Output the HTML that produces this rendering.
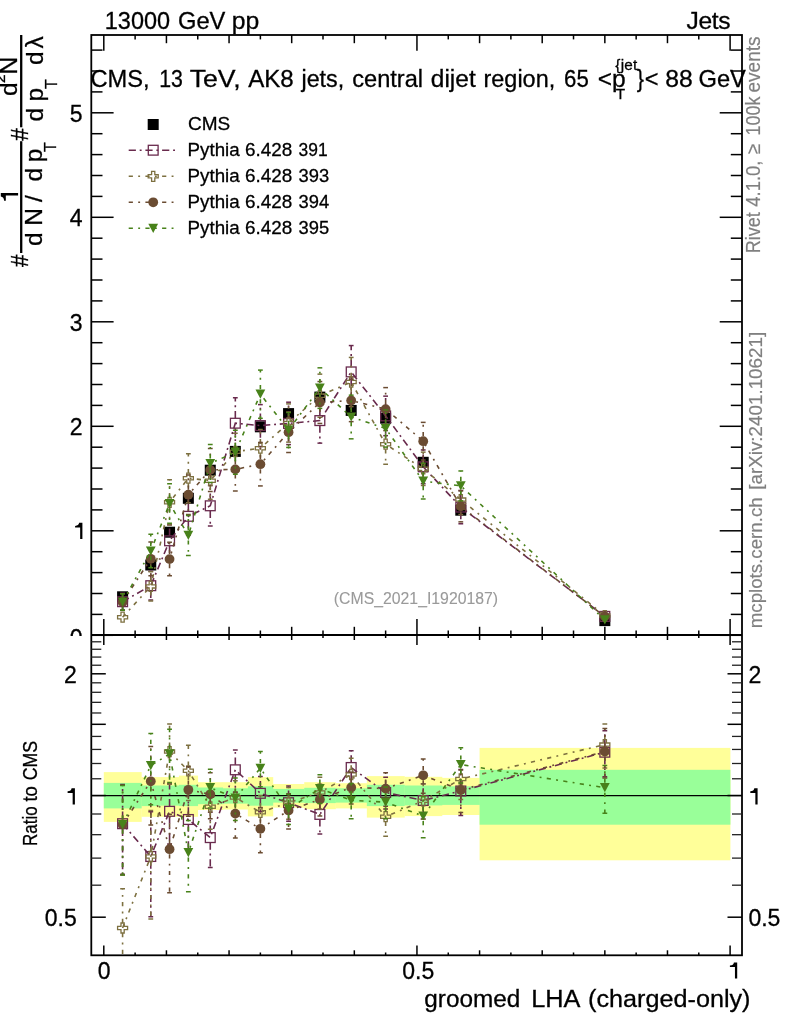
<!DOCTYPE html>
<html><head><meta charset="utf-8"><title>plot</title>
<style>html,body{margin:0;padding:0;background:#fff}svg{display:block;will-change:transform}text{font-family:"Liberation Sans",sans-serif}</style></head>
<body>
<svg width="786" height="1024" viewBox="0 0 786 1024" font-family="Liberation Sans, sans-serif">
<rect width="786" height="1024" fill="#fff"/>
<rect x="103.80" y="772.10" width="37.88" height="49.80" fill="#ffff99"/>
<rect x="141.38" y="777.10" width="19.09" height="39.70" fill="#ffff99"/>
<rect x="160.17" y="777.10" width="19.09" height="39.70" fill="#ffff99"/>
<rect x="178.96" y="775.60" width="19.09" height="41.20" fill="#ffff99"/>
<rect x="197.75" y="782.20" width="25.35" height="27.80" fill="#ffff99"/>
<rect x="222.80" y="782.20" width="25.35" height="27.30" fill="#ffff99"/>
<rect x="247.85" y="777.10" width="25.35" height="39.30" fill="#ffff99"/>
<rect x="272.90" y="784.00" width="31.61" height="23.70" fill="#ffff99"/>
<rect x="304.22" y="782.20" width="31.61" height="27.00" fill="#ffff99"/>
<rect x="335.53" y="783.20" width="31.61" height="25.20" fill="#ffff99"/>
<rect x="366.85" y="776.10" width="37.88" height="41.50" fill="#ffff99"/>
<rect x="404.42" y="776.80" width="37.88" height="39.30" fill="#ffff99"/>
<rect x="442.00" y="777.90" width="37.88" height="37.10" fill="#ffff99"/>
<rect x="479.58" y="747.90" width="250.82" height="112.40" fill="#ffff99"/>
<rect x="103.80" y="782.90" width="37.88" height="25.50" fill="#99ff99"/>
<rect x="141.38" y="785.50" width="19.09" height="20.60" fill="#99ff99"/>
<rect x="160.17" y="785.50" width="19.09" height="20.10" fill="#99ff99"/>
<rect x="178.96" y="784.80" width="19.09" height="21.30" fill="#99ff99"/>
<rect x="197.75" y="787.50" width="25.35" height="16.70" fill="#99ff99"/>
<rect x="222.80" y="788.30" width="25.35" height="15.30" fill="#99ff99"/>
<rect x="247.85" y="786.30" width="25.35" height="19.40" fill="#99ff99"/>
<rect x="272.90" y="788.90" width="31.61" height="13.70" fill="#99ff99"/>
<rect x="304.22" y="787.80" width="31.61" height="15.30" fill="#99ff99"/>
<rect x="335.53" y="788.30" width="31.61" height="14.30" fill="#99ff99"/>
<rect x="366.85" y="784.80" width="37.88" height="21.30" fill="#99ff99"/>
<rect x="404.42" y="785.50" width="37.88" height="19.90" fill="#99ff99"/>
<rect x="442.00" y="786.30" width="37.88" height="18.60" fill="#99ff99"/>
<rect x="479.58" y="769.80" width="250.82" height="54.90" fill="#99ff99"/>
<defs><clipPath id="cm"><rect x="91.3" y="35.0" width="650.7" height="600.0"/></clipPath><clipPath id="cr"><rect x="91.3" y="635.0" width="650.7" height="320.29999999999995"/></clipPath></defs>
<g clip-path="url(#cm)">
<rect x="117.09" y="591.30" width="11" height="11" fill="#000"/>
<rect x="145.27" y="559.50" width="11" height="11" fill="#000"/>
<rect x="164.06" y="526.70" width="11" height="11" fill="#000"/>
<rect x="182.85" y="492.80" width="11" height="11" fill="#000"/>
<rect x="204.77" y="464.70" width="11" height="11" fill="#000"/>
<rect x="229.82" y="445.90" width="11" height="11" fill="#000"/>
<rect x="254.88" y="421.30" width="11" height="11" fill="#000"/>
<rect x="283.06" y="408.10" width="11" height="11" fill="#000"/>
<rect x="314.37" y="391.60" width="11" height="11" fill="#000"/>
<rect x="345.69" y="404.90" width="11" height="11" fill="#000"/>
<rect x="380.13" y="412.70" width="11" height="11" fill="#000"/>
<rect x="417.71" y="456.80" width="11" height="11" fill="#000"/>
<rect x="455.29" y="504.70" width="11" height="11" fill="#000"/>
<rect x="599.34" y="615.10" width="11" height="11" fill="#000"/>
<polyline points="122.59,601.70 150.77,585.70 169.56,540.80 188.35,516.30 210.27,505.80 235.32,423.20 260.38,425.60 288.56,423.40 319.87,420.60 351.19,371.90 385.63,415.90 423.21,466.80 460.79,507.10 604.84,616.40" fill="none" stroke="#692a4d" stroke-width="1.6" stroke-dasharray="7.2 3.8 1.9 3.8"/>
<line x1="122.59" y1="596.70" x2="122.59" y2="593.30" stroke="#692a4d" stroke-width="1.6" stroke-dasharray="7.2 3.8 1.9 3.8"/>
<line x1="122.59" y1="606.70" x2="122.59" y2="610.10" stroke="#692a4d" stroke-width="1.6" stroke-dasharray="7.2 3.8 1.9 3.8"/>
<line x1="120.19" y1="593.30" x2="124.99" y2="593.30" stroke="#692a4d" stroke-width="1.5" />
<line x1="120.19" y1="610.10" x2="124.99" y2="610.10" stroke="#692a4d" stroke-width="1.5" />
<line x1="150.77" y1="580.70" x2="150.77" y2="571.32" stroke="#692a4d" stroke-width="1.6" stroke-dasharray="7.2 3.8 1.9 3.8"/>
<line x1="150.77" y1="590.70" x2="150.77" y2="600.08" stroke="#692a4d" stroke-width="1.6" stroke-dasharray="7.2 3.8 1.9 3.8"/>
<line x1="148.37" y1="571.32" x2="153.17" y2="571.32" stroke="#692a4d" stroke-width="1.5" />
<line x1="148.37" y1="600.08" x2="153.17" y2="600.08" stroke="#692a4d" stroke-width="1.5" />
<line x1="169.56" y1="535.80" x2="169.56" y2="524.73" stroke="#692a4d" stroke-width="1.6" stroke-dasharray="7.2 3.8 1.9 3.8"/>
<line x1="169.56" y1="545.80" x2="169.56" y2="556.87" stroke="#692a4d" stroke-width="1.6" stroke-dasharray="7.2 3.8 1.9 3.8"/>
<line x1="167.16" y1="524.73" x2="171.96" y2="524.73" stroke="#692a4d" stroke-width="1.5" />
<line x1="167.16" y1="556.87" x2="171.96" y2="556.87" stroke="#692a4d" stroke-width="1.5" />
<line x1="188.35" y1="511.30" x2="188.35" y2="497.26" stroke="#692a4d" stroke-width="1.6" stroke-dasharray="7.2 3.8 1.9 3.8"/>
<line x1="188.35" y1="521.30" x2="188.35" y2="535.34" stroke="#692a4d" stroke-width="1.6" stroke-dasharray="7.2 3.8 1.9 3.8"/>
<line x1="185.95" y1="497.26" x2="190.75" y2="497.26" stroke="#692a4d" stroke-width="1.5" />
<line x1="185.95" y1="535.34" x2="190.75" y2="535.34" stroke="#692a4d" stroke-width="1.5" />
<line x1="210.27" y1="500.80" x2="210.27" y2="485.60" stroke="#692a4d" stroke-width="1.6" stroke-dasharray="7.2 3.8 1.9 3.8"/>
<line x1="210.27" y1="510.80" x2="210.27" y2="526.00" stroke="#692a4d" stroke-width="1.6" stroke-dasharray="7.2 3.8 1.9 3.8"/>
<line x1="207.87" y1="485.60" x2="212.67" y2="485.60" stroke="#692a4d" stroke-width="1.5" />
<line x1="207.87" y1="526.00" x2="212.67" y2="526.00" stroke="#692a4d" stroke-width="1.5" />
<line x1="235.32" y1="418.20" x2="235.32" y2="397.75" stroke="#692a4d" stroke-width="1.6" stroke-dasharray="7.2 3.8 1.9 3.8"/>
<line x1="235.32" y1="428.20" x2="235.32" y2="448.65" stroke="#692a4d" stroke-width="1.6" stroke-dasharray="7.2 3.8 1.9 3.8"/>
<line x1="232.92" y1="397.75" x2="237.72" y2="397.75" stroke="#692a4d" stroke-width="1.5" />
<line x1="232.92" y1="448.65" x2="237.72" y2="448.65" stroke="#692a4d" stroke-width="1.5" />
<line x1="260.38" y1="420.60" x2="260.38" y2="404.63" stroke="#692a4d" stroke-width="1.6" stroke-dasharray="7.2 3.8 1.9 3.8"/>
<line x1="260.38" y1="430.60" x2="260.38" y2="446.57" stroke="#692a4d" stroke-width="1.6" stroke-dasharray="7.2 3.8 1.9 3.8"/>
<line x1="257.98" y1="404.63" x2="262.77" y2="404.63" stroke="#692a4d" stroke-width="1.5" />
<line x1="257.98" y1="446.57" x2="262.77" y2="446.57" stroke="#692a4d" stroke-width="1.5" />
<line x1="288.56" y1="418.40" x2="288.56" y2="402.21" stroke="#692a4d" stroke-width="1.6" stroke-dasharray="7.2 3.8 1.9 3.8"/>
<line x1="288.56" y1="428.40" x2="288.56" y2="444.59" stroke="#692a4d" stroke-width="1.6" stroke-dasharray="7.2 3.8 1.9 3.8"/>
<line x1="286.16" y1="402.21" x2="290.96" y2="402.21" stroke="#692a4d" stroke-width="1.5" />
<line x1="286.16" y1="444.59" x2="290.96" y2="444.59" stroke="#692a4d" stroke-width="1.5" />
<line x1="319.87" y1="415.60" x2="319.87" y2="398.06" stroke="#692a4d" stroke-width="1.6" stroke-dasharray="7.2 3.8 1.9 3.8"/>
<line x1="319.87" y1="425.60" x2="319.87" y2="443.14" stroke="#692a4d" stroke-width="1.6" stroke-dasharray="7.2 3.8 1.9 3.8"/>
<line x1="317.47" y1="398.06" x2="322.27" y2="398.06" stroke="#692a4d" stroke-width="1.5" />
<line x1="317.47" y1="443.14" x2="322.27" y2="443.14" stroke="#692a4d" stroke-width="1.5" />
<line x1="351.19" y1="366.90" x2="351.19" y2="345.56" stroke="#692a4d" stroke-width="1.6" stroke-dasharray="7.2 3.8 1.9 3.8"/>
<line x1="351.19" y1="376.90" x2="351.19" y2="398.24" stroke="#692a4d" stroke-width="1.6" stroke-dasharray="7.2 3.8 1.9 3.8"/>
<line x1="348.79" y1="345.56" x2="353.59" y2="345.56" stroke="#692a4d" stroke-width="1.5" />
<line x1="348.79" y1="398.24" x2="353.59" y2="398.24" stroke="#692a4d" stroke-width="1.5" />
<line x1="385.63" y1="410.90" x2="385.63" y2="396.15" stroke="#692a4d" stroke-width="1.6" stroke-dasharray="7.2 3.8 1.9 3.8"/>
<line x1="385.63" y1="420.90" x2="385.63" y2="435.65" stroke="#692a4d" stroke-width="1.6" stroke-dasharray="7.2 3.8 1.9 3.8"/>
<line x1="383.24" y1="396.15" x2="388.03" y2="396.15" stroke="#692a4d" stroke-width="1.5" />
<line x1="383.24" y1="435.65" x2="388.03" y2="435.65" stroke="#692a4d" stroke-width="1.5" />
<line x1="423.21" y1="461.80" x2="423.21" y2="449.95" stroke="#692a4d" stroke-width="1.6" stroke-dasharray="7.2 3.8 1.9 3.8"/>
<line x1="423.21" y1="471.80" x2="423.21" y2="483.65" stroke="#692a4d" stroke-width="1.6" stroke-dasharray="7.2 3.8 1.9 3.8"/>
<line x1="420.81" y1="449.95" x2="425.61" y2="449.95" stroke="#692a4d" stroke-width="1.5" />
<line x1="420.81" y1="483.65" x2="425.61" y2="483.65" stroke="#692a4d" stroke-width="1.5" />
<line x1="460.79" y1="502.10" x2="460.79" y2="490.43" stroke="#692a4d" stroke-width="1.6" stroke-dasharray="7.2 3.8 1.9 3.8"/>
<line x1="460.79" y1="512.10" x2="460.79" y2="523.77" stroke="#692a4d" stroke-width="1.6" stroke-dasharray="7.2 3.8 1.9 3.8"/>
<line x1="458.39" y1="490.43" x2="463.19" y2="490.43" stroke="#692a4d" stroke-width="1.5" />
<line x1="458.39" y1="523.77" x2="463.19" y2="523.77" stroke="#692a4d" stroke-width="1.5" />
<rect x="117.69" y="596.80" width="9.8" height="9.8" fill="none" stroke="#692a4d" stroke-width="1.3"/>
<rect x="145.87" y="580.80" width="9.8" height="9.8" fill="none" stroke="#692a4d" stroke-width="1.3"/>
<rect x="164.66" y="535.90" width="9.8" height="9.8" fill="none" stroke="#692a4d" stroke-width="1.3"/>
<rect x="183.45" y="511.40" width="9.8" height="9.8" fill="none" stroke="#692a4d" stroke-width="1.3"/>
<rect x="205.37" y="500.90" width="9.8" height="9.8" fill="none" stroke="#692a4d" stroke-width="1.3"/>
<rect x="230.42" y="418.30" width="9.8" height="9.8" fill="none" stroke="#692a4d" stroke-width="1.3"/>
<rect x="255.47" y="420.70" width="9.8" height="9.8" fill="none" stroke="#692a4d" stroke-width="1.3"/>
<rect x="283.66" y="418.50" width="9.8" height="9.8" fill="none" stroke="#692a4d" stroke-width="1.3"/>
<rect x="314.97" y="415.70" width="9.8" height="9.8" fill="none" stroke="#692a4d" stroke-width="1.3"/>
<rect x="346.29" y="367.00" width="9.8" height="9.8" fill="none" stroke="#692a4d" stroke-width="1.3"/>
<rect x="380.74" y="411.00" width="9.8" height="9.8" fill="none" stroke="#692a4d" stroke-width="1.3"/>
<rect x="418.31" y="461.90" width="9.8" height="9.8" fill="none" stroke="#692a4d" stroke-width="1.3"/>
<rect x="455.89" y="502.20" width="9.8" height="9.8" fill="none" stroke="#692a4d" stroke-width="1.3"/>
<rect x="599.94" y="611.50" width="9.8" height="9.8" fill="none" stroke="#692a4d" stroke-width="1.3"/>
<polyline points="122.59,617.20 150.77,586.40 169.56,502.30 188.35,478.20 210.27,480.70 235.32,451.70 260.38,448.20 288.56,423.00 319.87,395.70 351.19,382.00 385.63,444.20 423.21,468.80 460.79,499.60 604.84,615.60" fill="none" stroke="#7d7040" stroke-width="1.6" stroke-dasharray="4.2 5.3 1.9 5.3"/>
<line x1="150.77" y1="581.40" x2="150.77" y2="571.73" stroke="#7d7040" stroke-width="1.6" stroke-dasharray="4.2 5.3 1.9 5.3"/>
<line x1="150.77" y1="591.40" x2="150.77" y2="601.07" stroke="#7d7040" stroke-width="1.6" stroke-dasharray="4.2 5.3 1.9 5.3"/>
<line x1="148.37" y1="571.73" x2="153.17" y2="571.73" stroke="#7d7040" stroke-width="1.5" />
<line x1="148.37" y1="601.07" x2="153.17" y2="601.07" stroke="#7d7040" stroke-width="1.5" />
<line x1="169.56" y1="497.30" x2="169.56" y2="479.69" stroke="#7d7040" stroke-width="1.6" stroke-dasharray="4.2 5.3 1.9 5.3"/>
<line x1="169.56" y1="507.30" x2="169.56" y2="524.91" stroke="#7d7040" stroke-width="1.6" stroke-dasharray="4.2 5.3 1.9 5.3"/>
<line x1="167.16" y1="479.69" x2="171.96" y2="479.69" stroke="#7d7040" stroke-width="1.5" />
<line x1="167.16" y1="524.91" x2="171.96" y2="524.91" stroke="#7d7040" stroke-width="1.5" />
<line x1="188.35" y1="473.20" x2="188.35" y2="453.69" stroke="#7d7040" stroke-width="1.6" stroke-dasharray="4.2 5.3 1.9 5.3"/>
<line x1="188.35" y1="483.20" x2="188.35" y2="502.71" stroke="#7d7040" stroke-width="1.6" stroke-dasharray="4.2 5.3 1.9 5.3"/>
<line x1="185.95" y1="453.69" x2="190.75" y2="453.69" stroke="#7d7040" stroke-width="1.5" />
<line x1="185.95" y1="502.71" x2="190.75" y2="502.71" stroke="#7d7040" stroke-width="1.5" />
<line x1="210.27" y1="475.70" x2="210.27" y2="462.15" stroke="#7d7040" stroke-width="1.6" stroke-dasharray="4.2 5.3 1.9 5.3"/>
<line x1="210.27" y1="485.70" x2="210.27" y2="499.25" stroke="#7d7040" stroke-width="1.6" stroke-dasharray="4.2 5.3 1.9 5.3"/>
<line x1="207.87" y1="462.15" x2="212.67" y2="462.15" stroke="#7d7040" stroke-width="1.5" />
<line x1="207.87" y1="499.25" x2="212.67" y2="499.25" stroke="#7d7040" stroke-width="1.5" />
<line x1="235.32" y1="446.70" x2="235.32" y2="433.34" stroke="#7d7040" stroke-width="1.6" stroke-dasharray="4.2 5.3 1.9 5.3"/>
<line x1="235.32" y1="456.70" x2="235.32" y2="470.06" stroke="#7d7040" stroke-width="1.6" stroke-dasharray="4.2 5.3 1.9 5.3"/>
<line x1="232.92" y1="433.34" x2="237.72" y2="433.34" stroke="#7d7040" stroke-width="1.5" />
<line x1="232.92" y1="470.06" x2="237.72" y2="470.06" stroke="#7d7040" stroke-width="1.5" />
<line x1="260.38" y1="443.20" x2="260.38" y2="429.49" stroke="#7d7040" stroke-width="1.6" stroke-dasharray="4.2 5.3 1.9 5.3"/>
<line x1="260.38" y1="453.20" x2="260.38" y2="466.91" stroke="#7d7040" stroke-width="1.6" stroke-dasharray="4.2 5.3 1.9 5.3"/>
<line x1="257.98" y1="429.49" x2="262.77" y2="429.49" stroke="#7d7040" stroke-width="1.5" />
<line x1="257.98" y1="466.91" x2="262.77" y2="466.91" stroke="#7d7040" stroke-width="1.5" />
<line x1="288.56" y1="418.00" x2="288.56" y2="403.89" stroke="#7d7040" stroke-width="1.6" stroke-dasharray="4.2 5.3 1.9 5.3"/>
<line x1="288.56" y1="428.00" x2="288.56" y2="442.11" stroke="#7d7040" stroke-width="1.6" stroke-dasharray="4.2 5.3 1.9 5.3"/>
<line x1="286.16" y1="403.89" x2="290.96" y2="403.89" stroke="#7d7040" stroke-width="1.5" />
<line x1="286.16" y1="442.11" x2="290.96" y2="442.11" stroke="#7d7040" stroke-width="1.5" />
<line x1="319.87" y1="390.70" x2="319.87" y2="374.14" stroke="#7d7040" stroke-width="1.6" stroke-dasharray="4.2 5.3 1.9 5.3"/>
<line x1="319.87" y1="400.70" x2="319.87" y2="417.26" stroke="#7d7040" stroke-width="1.6" stroke-dasharray="4.2 5.3 1.9 5.3"/>
<line x1="317.47" y1="374.14" x2="322.27" y2="374.14" stroke="#7d7040" stroke-width="1.5" />
<line x1="317.47" y1="417.26" x2="322.27" y2="417.26" stroke="#7d7040" stroke-width="1.5" />
<line x1="351.19" y1="377.00" x2="351.19" y2="357.43" stroke="#7d7040" stroke-width="1.6" stroke-dasharray="4.2 5.3 1.9 5.3"/>
<line x1="351.19" y1="387.00" x2="351.19" y2="406.57" stroke="#7d7040" stroke-width="1.6" stroke-dasharray="4.2 5.3 1.9 5.3"/>
<line x1="348.79" y1="357.43" x2="353.59" y2="357.43" stroke="#7d7040" stroke-width="1.5" />
<line x1="348.79" y1="406.57" x2="353.59" y2="406.57" stroke="#7d7040" stroke-width="1.5" />
<line x1="385.63" y1="439.20" x2="385.63" y2="424.13" stroke="#7d7040" stroke-width="1.6" stroke-dasharray="4.2 5.3 1.9 5.3"/>
<line x1="385.63" y1="449.20" x2="385.63" y2="464.27" stroke="#7d7040" stroke-width="1.6" stroke-dasharray="4.2 5.3 1.9 5.3"/>
<line x1="383.24" y1="424.13" x2="388.03" y2="424.13" stroke="#7d7040" stroke-width="1.5" />
<line x1="383.24" y1="464.27" x2="388.03" y2="464.27" stroke="#7d7040" stroke-width="1.5" />
<line x1="423.21" y1="463.80" x2="423.21" y2="452.15" stroke="#7d7040" stroke-width="1.6" stroke-dasharray="4.2 5.3 1.9 5.3"/>
<line x1="423.21" y1="473.80" x2="423.21" y2="485.45" stroke="#7d7040" stroke-width="1.6" stroke-dasharray="4.2 5.3 1.9 5.3"/>
<line x1="420.81" y1="452.15" x2="425.61" y2="452.15" stroke="#7d7040" stroke-width="1.5" />
<line x1="420.81" y1="485.45" x2="425.61" y2="485.45" stroke="#7d7040" stroke-width="1.5" />
<line x1="460.79" y1="494.60" x2="460.79" y2="484.67" stroke="#7d7040" stroke-width="1.6" stroke-dasharray="4.2 5.3 1.9 5.3"/>
<line x1="460.79" y1="504.60" x2="460.79" y2="514.53" stroke="#7d7040" stroke-width="1.6" stroke-dasharray="4.2 5.3 1.9 5.3"/>
<line x1="458.39" y1="484.67" x2="463.19" y2="484.67" stroke="#7d7040" stroke-width="1.5" />
<line x1="458.39" y1="514.53" x2="463.19" y2="514.53" stroke="#7d7040" stroke-width="1.5" />
<polygon points="120.99,612.20 124.19,612.20 124.19,615.60 127.59,615.60 127.59,618.80 124.19,618.80 124.19,622.20 120.99,622.20 120.99,618.80 117.59,618.80 117.59,615.60 120.99,615.60" fill="none" stroke="#7d7040" stroke-width="1.3"/>
<polygon points="149.17,581.40 152.37,581.40 152.37,584.80 155.77,584.80 155.77,588.00 152.37,588.00 152.37,591.40 149.17,591.40 149.17,588.00 145.77,588.00 145.77,584.80 149.17,584.80" fill="none" stroke="#7d7040" stroke-width="1.3"/>
<polygon points="167.96,497.30 171.16,497.30 171.16,500.70 174.56,500.70 174.56,503.90 171.16,503.90 171.16,507.30 167.96,507.30 167.96,503.90 164.56,503.90 164.56,500.70 167.96,500.70" fill="none" stroke="#7d7040" stroke-width="1.3"/>
<polygon points="186.75,473.20 189.95,473.20 189.95,476.60 193.35,476.60 193.35,479.80 189.95,479.80 189.95,483.20 186.75,483.20 186.75,479.80 183.35,479.80 183.35,476.60 186.75,476.60" fill="none" stroke="#7d7040" stroke-width="1.3"/>
<polygon points="208.67,475.70 211.87,475.70 211.87,479.10 215.27,479.10 215.27,482.30 211.87,482.30 211.87,485.70 208.67,485.70 208.67,482.30 205.27,482.30 205.27,479.10 208.67,479.10" fill="none" stroke="#7d7040" stroke-width="1.3"/>
<polygon points="233.72,446.70 236.92,446.70 236.92,450.10 240.32,450.10 240.32,453.30 236.92,453.30 236.92,456.70 233.72,456.70 233.72,453.30 230.32,453.30 230.32,450.10 233.72,450.10" fill="none" stroke="#7d7040" stroke-width="1.3"/>
<polygon points="258.77,443.20 261.98,443.20 261.98,446.60 265.38,446.60 265.38,449.80 261.98,449.80 261.98,453.20 258.77,453.20 258.77,449.80 255.38,449.80 255.38,446.60 258.77,446.60" fill="none" stroke="#7d7040" stroke-width="1.3"/>
<polygon points="286.96,418.00 290.16,418.00 290.16,421.40 293.56,421.40 293.56,424.60 290.16,424.60 290.16,428.00 286.96,428.00 286.96,424.60 283.56,424.60 283.56,421.40 286.96,421.40" fill="none" stroke="#7d7040" stroke-width="1.3"/>
<polygon points="318.27,390.70 321.47,390.70 321.47,394.10 324.87,394.10 324.87,397.30 321.47,397.30 321.47,400.70 318.27,400.70 318.27,397.30 314.87,397.30 314.87,394.10 318.27,394.10" fill="none" stroke="#7d7040" stroke-width="1.3"/>
<polygon points="349.59,377.00 352.79,377.00 352.79,380.40 356.19,380.40 356.19,383.60 352.79,383.60 352.79,387.00 349.59,387.00 349.59,383.60 346.19,383.60 346.19,380.40 349.59,380.40" fill="none" stroke="#7d7040" stroke-width="1.3"/>
<polygon points="384.03,439.20 387.24,439.20 387.24,442.60 390.63,442.60 390.63,445.80 387.24,445.80 387.24,449.20 384.03,449.20 384.03,445.80 380.63,445.80 380.63,442.60 384.03,442.60" fill="none" stroke="#7d7040" stroke-width="1.3"/>
<polygon points="421.61,463.80 424.81,463.80 424.81,467.20 428.21,467.20 428.21,470.40 424.81,470.40 424.81,473.80 421.61,473.80 421.61,470.40 418.21,470.40 418.21,467.20 421.61,467.20" fill="none" stroke="#7d7040" stroke-width="1.3"/>
<polygon points="459.19,494.60 462.39,494.60 462.39,498.00 465.79,498.00 465.79,501.20 462.39,501.20 462.39,504.60 459.19,504.60 459.19,501.20 455.79,501.20 455.79,498.00 459.19,498.00" fill="none" stroke="#7d7040" stroke-width="1.3"/>
<polygon points="603.24,610.60 606.44,610.60 606.44,614.00 609.84,614.00 609.84,617.20 606.44,617.20 606.44,620.60 603.24,620.60 603.24,617.20 599.84,617.20 599.84,614.00 603.24,614.00" fill="none" stroke="#7d7040" stroke-width="1.3"/>
<polyline points="122.59,602.00 150.77,558.80 169.56,559.10 188.35,494.70 210.27,469.90 235.32,469.40 260.38,464.20 288.56,432.20 319.87,402.50 351.19,400.50 385.63,409.10 423.21,441.20 460.79,506.40 604.84,616.50" fill="none" stroke="#6b4c32" stroke-width="1.6" stroke-dasharray="4.2 5.3 1.9 5.3"/>
<line x1="122.59" y1="597.00" x2="122.59" y2="593.67" stroke="#6b4c32" stroke-width="1.6" stroke-dasharray="4.2 5.3 1.9 5.3"/>
<line x1="122.59" y1="607.00" x2="122.59" y2="610.33" stroke="#6b4c32" stroke-width="1.6" stroke-dasharray="4.2 5.3 1.9 5.3"/>
<line x1="120.19" y1="593.67" x2="124.99" y2="593.67" stroke="#6b4c32" stroke-width="1.5" />
<line x1="120.19" y1="610.33" x2="124.99" y2="610.33" stroke="#6b4c32" stroke-width="1.5" />
<line x1="150.77" y1="553.80" x2="150.77" y2="541.97" stroke="#6b4c32" stroke-width="1.6" stroke-dasharray="4.2 5.3 1.9 5.3"/>
<line x1="150.77" y1="563.80" x2="150.77" y2="575.63" stroke="#6b4c32" stroke-width="1.6" stroke-dasharray="4.2 5.3 1.9 5.3"/>
<line x1="148.37" y1="541.97" x2="153.17" y2="541.97" stroke="#6b4c32" stroke-width="1.5" />
<line x1="148.37" y1="575.63" x2="153.17" y2="575.63" stroke="#6b4c32" stroke-width="1.5" />
<line x1="169.56" y1="554.10" x2="169.56" y2="542.34" stroke="#6b4c32" stroke-width="1.6" stroke-dasharray="4.2 5.3 1.9 5.3"/>
<line x1="169.56" y1="564.10" x2="169.56" y2="575.86" stroke="#6b4c32" stroke-width="1.6" stroke-dasharray="4.2 5.3 1.9 5.3"/>
<line x1="167.16" y1="542.34" x2="171.96" y2="542.34" stroke="#6b4c32" stroke-width="1.5" />
<line x1="167.16" y1="575.86" x2="171.96" y2="575.86" stroke="#6b4c32" stroke-width="1.5" />
<line x1="188.35" y1="489.70" x2="188.35" y2="475.02" stroke="#6b4c32" stroke-width="1.6" stroke-dasharray="4.2 5.3 1.9 5.3"/>
<line x1="188.35" y1="499.70" x2="188.35" y2="514.38" stroke="#6b4c32" stroke-width="1.6" stroke-dasharray="4.2 5.3 1.9 5.3"/>
<line x1="185.95" y1="475.02" x2="190.75" y2="475.02" stroke="#6b4c32" stroke-width="1.5" />
<line x1="185.95" y1="514.38" x2="190.75" y2="514.38" stroke="#6b4c32" stroke-width="1.5" />
<line x1="210.27" y1="464.90" x2="210.27" y2="448.40" stroke="#6b4c32" stroke-width="1.6" stroke-dasharray="4.2 5.3 1.9 5.3"/>
<line x1="210.27" y1="474.90" x2="210.27" y2="491.40" stroke="#6b4c32" stroke-width="1.6" stroke-dasharray="4.2 5.3 1.9 5.3"/>
<line x1="207.87" y1="448.40" x2="212.67" y2="448.40" stroke="#6b4c32" stroke-width="1.5" />
<line x1="207.87" y1="491.40" x2="212.67" y2="491.40" stroke="#6b4c32" stroke-width="1.5" />
<line x1="235.32" y1="464.40" x2="235.32" y2="447.83" stroke="#6b4c32" stroke-width="1.6" stroke-dasharray="4.2 5.3 1.9 5.3"/>
<line x1="235.32" y1="474.40" x2="235.32" y2="490.97" stroke="#6b4c32" stroke-width="1.6" stroke-dasharray="4.2 5.3 1.9 5.3"/>
<line x1="232.92" y1="447.83" x2="237.72" y2="447.83" stroke="#6b4c32" stroke-width="1.5" />
<line x1="232.92" y1="490.97" x2="237.72" y2="490.97" stroke="#6b4c32" stroke-width="1.5" />
<line x1="260.38" y1="459.20" x2="260.38" y2="442.47" stroke="#6b4c32" stroke-width="1.6" stroke-dasharray="4.2 5.3 1.9 5.3"/>
<line x1="260.38" y1="469.20" x2="260.38" y2="485.93" stroke="#6b4c32" stroke-width="1.6" stroke-dasharray="4.2 5.3 1.9 5.3"/>
<line x1="257.98" y1="442.47" x2="262.77" y2="442.47" stroke="#6b4c32" stroke-width="1.5" />
<line x1="257.98" y1="485.93" x2="262.77" y2="485.93" stroke="#6b4c32" stroke-width="1.5" />
<line x1="288.56" y1="427.20" x2="288.56" y2="411.89" stroke="#6b4c32" stroke-width="1.6" stroke-dasharray="4.2 5.3 1.9 5.3"/>
<line x1="288.56" y1="437.20" x2="288.56" y2="452.51" stroke="#6b4c32" stroke-width="1.6" stroke-dasharray="4.2 5.3 1.9 5.3"/>
<line x1="286.16" y1="411.89" x2="290.96" y2="411.89" stroke="#6b4c32" stroke-width="1.5" />
<line x1="286.16" y1="452.51" x2="290.96" y2="452.51" stroke="#6b4c32" stroke-width="1.5" />
<line x1="319.87" y1="397.50" x2="319.87" y2="381.55" stroke="#6b4c32" stroke-width="1.6" stroke-dasharray="4.2 5.3 1.9 5.3"/>
<line x1="319.87" y1="407.50" x2="319.87" y2="423.45" stroke="#6b4c32" stroke-width="1.6" stroke-dasharray="4.2 5.3 1.9 5.3"/>
<line x1="317.47" y1="381.55" x2="322.27" y2="381.55" stroke="#6b4c32" stroke-width="1.5" />
<line x1="317.47" y1="423.45" x2="322.27" y2="423.45" stroke="#6b4c32" stroke-width="1.5" />
<line x1="351.19" y1="395.50" x2="351.19" y2="379.37" stroke="#6b4c32" stroke-width="1.6" stroke-dasharray="4.2 5.3 1.9 5.3"/>
<line x1="351.19" y1="405.50" x2="351.19" y2="421.63" stroke="#6b4c32" stroke-width="1.6" stroke-dasharray="4.2 5.3 1.9 5.3"/>
<line x1="348.79" y1="379.37" x2="353.59" y2="379.37" stroke="#6b4c32" stroke-width="1.5" />
<line x1="348.79" y1="421.63" x2="353.59" y2="421.63" stroke="#6b4c32" stroke-width="1.5" />
<line x1="385.63" y1="404.10" x2="385.63" y2="387.61" stroke="#6b4c32" stroke-width="1.6" stroke-dasharray="4.2 5.3 1.9 5.3"/>
<line x1="385.63" y1="414.10" x2="385.63" y2="430.59" stroke="#6b4c32" stroke-width="1.6" stroke-dasharray="4.2 5.3 1.9 5.3"/>
<line x1="383.24" y1="387.61" x2="388.03" y2="387.61" stroke="#6b4c32" stroke-width="1.5" />
<line x1="383.24" y1="430.59" x2="388.03" y2="430.59" stroke="#6b4c32" stroke-width="1.5" />
<line x1="423.21" y1="436.20" x2="423.21" y2="422.37" stroke="#6b4c32" stroke-width="1.6" stroke-dasharray="4.2 5.3 1.9 5.3"/>
<line x1="423.21" y1="446.20" x2="423.21" y2="460.03" stroke="#6b4c32" stroke-width="1.6" stroke-dasharray="4.2 5.3 1.9 5.3"/>
<line x1="420.81" y1="422.37" x2="425.61" y2="422.37" stroke="#6b4c32" stroke-width="1.5" />
<line x1="420.81" y1="460.03" x2="425.61" y2="460.03" stroke="#6b4c32" stroke-width="1.5" />
<line x1="460.79" y1="501.40" x2="460.79" y2="490.93" stroke="#6b4c32" stroke-width="1.6" stroke-dasharray="4.2 5.3 1.9 5.3"/>
<line x1="460.79" y1="511.40" x2="460.79" y2="521.87" stroke="#6b4c32" stroke-width="1.6" stroke-dasharray="4.2 5.3 1.9 5.3"/>
<line x1="458.39" y1="490.93" x2="463.19" y2="490.93" stroke="#6b4c32" stroke-width="1.5" />
<line x1="458.39" y1="521.87" x2="463.19" y2="521.87" stroke="#6b4c32" stroke-width="1.5" />
<circle cx="122.59" cy="602.00" r="4.9" fill="#6b4c32"/>
<circle cx="150.77" cy="558.80" r="4.9" fill="#6b4c32"/>
<circle cx="169.56" cy="559.10" r="4.9" fill="#6b4c32"/>
<circle cx="188.35" cy="494.70" r="4.9" fill="#6b4c32"/>
<circle cx="210.27" cy="469.90" r="4.9" fill="#6b4c32"/>
<circle cx="235.32" cy="469.40" r="4.9" fill="#6b4c32"/>
<circle cx="260.38" cy="464.20" r="4.9" fill="#6b4c32"/>
<circle cx="288.56" cy="432.20" r="4.9" fill="#6b4c32"/>
<circle cx="319.87" cy="402.50" r="4.9" fill="#6b4c32"/>
<circle cx="351.19" cy="400.50" r="4.9" fill="#6b4c32"/>
<circle cx="385.63" cy="409.10" r="4.9" fill="#6b4c32"/>
<circle cx="423.21" cy="441.20" r="4.9" fill="#6b4c32"/>
<circle cx="460.79" cy="506.40" r="4.9" fill="#6b4c32"/>
<circle cx="604.84" cy="616.50" r="4.9" fill="#6b4c32"/>
<polyline points="122.59,602.00 150.77,551.00 169.56,503.60 188.35,535.40 210.27,463.50 235.32,452.20 260.38,394.20 288.56,430.00 319.87,388.10 351.19,417.00 385.63,428.50 423.21,481.10 460.79,485.90 604.84,619.90" fill="none" stroke="#48821a" stroke-width="1.6" stroke-dasharray="4.2 5.3 1.9 5.3"/>
<line x1="122.59" y1="597.00" x2="122.59" y2="593.67" stroke="#48821a" stroke-width="1.6" stroke-dasharray="4.2 5.3 1.9 5.3"/>
<line x1="122.59" y1="607.00" x2="122.59" y2="610.33" stroke="#48821a" stroke-width="1.6" stroke-dasharray="4.2 5.3 1.9 5.3"/>
<line x1="120.19" y1="593.67" x2="124.99" y2="593.67" stroke="#48821a" stroke-width="1.5" />
<line x1="120.19" y1="610.33" x2="124.99" y2="610.33" stroke="#48821a" stroke-width="1.5" />
<line x1="150.77" y1="546.00" x2="150.77" y2="534.14" stroke="#48821a" stroke-width="1.6" stroke-dasharray="4.2 5.3 1.9 5.3"/>
<line x1="150.77" y1="556.00" x2="150.77" y2="567.86" stroke="#48821a" stroke-width="1.6" stroke-dasharray="4.2 5.3 1.9 5.3"/>
<line x1="148.37" y1="534.14" x2="153.17" y2="534.14" stroke="#48821a" stroke-width="1.5" />
<line x1="148.37" y1="567.86" x2="153.17" y2="567.86" stroke="#48821a" stroke-width="1.5" />
<line x1="169.56" y1="498.60" x2="169.56" y2="483.85" stroke="#48821a" stroke-width="1.6" stroke-dasharray="4.2 5.3 1.9 5.3"/>
<line x1="169.56" y1="508.60" x2="169.56" y2="523.36" stroke="#48821a" stroke-width="1.6" stroke-dasharray="4.2 5.3 1.9 5.3"/>
<line x1="167.16" y1="483.85" x2="171.96" y2="483.85" stroke="#48821a" stroke-width="1.5" />
<line x1="167.16" y1="523.36" x2="171.96" y2="523.36" stroke="#48821a" stroke-width="1.5" />
<line x1="188.35" y1="530.40" x2="188.35" y2="515.42" stroke="#48821a" stroke-width="1.6" stroke-dasharray="4.2 5.3 1.9 5.3"/>
<line x1="188.35" y1="540.40" x2="188.35" y2="555.38" stroke="#48821a" stroke-width="1.6" stroke-dasharray="4.2 5.3 1.9 5.3"/>
<line x1="185.95" y1="515.42" x2="190.75" y2="515.42" stroke="#48821a" stroke-width="1.5" />
<line x1="185.95" y1="555.38" x2="190.75" y2="555.38" stroke="#48821a" stroke-width="1.5" />
<line x1="210.27" y1="458.50" x2="210.27" y2="444.60" stroke="#48821a" stroke-width="1.6" stroke-dasharray="4.2 5.3 1.9 5.3"/>
<line x1="210.27" y1="468.50" x2="210.27" y2="482.40" stroke="#48821a" stroke-width="1.6" stroke-dasharray="4.2 5.3 1.9 5.3"/>
<line x1="207.87" y1="444.60" x2="212.67" y2="444.60" stroke="#48821a" stroke-width="1.5" />
<line x1="207.87" y1="482.40" x2="212.67" y2="482.40" stroke="#48821a" stroke-width="1.5" />
<line x1="235.32" y1="447.20" x2="235.32" y2="430.23" stroke="#48821a" stroke-width="1.6" stroke-dasharray="4.2 5.3 1.9 5.3"/>
<line x1="235.32" y1="457.20" x2="235.32" y2="474.17" stroke="#48821a" stroke-width="1.6" stroke-dasharray="4.2 5.3 1.9 5.3"/>
<line x1="232.92" y1="430.23" x2="237.72" y2="430.23" stroke="#48821a" stroke-width="1.5" />
<line x1="232.92" y1="474.17" x2="237.72" y2="474.17" stroke="#48821a" stroke-width="1.5" />
<line x1="260.38" y1="389.20" x2="260.38" y2="370.09" stroke="#48821a" stroke-width="1.6" stroke-dasharray="4.2 5.3 1.9 5.3"/>
<line x1="260.38" y1="399.20" x2="260.38" y2="418.31" stroke="#48821a" stroke-width="1.6" stroke-dasharray="4.2 5.3 1.9 5.3"/>
<line x1="257.98" y1="370.09" x2="262.77" y2="370.09" stroke="#48821a" stroke-width="1.5" />
<line x1="257.98" y1="418.31" x2="262.77" y2="418.31" stroke="#48821a" stroke-width="1.5" />
<line x1="288.56" y1="425.00" x2="288.56" y2="412.55" stroke="#48821a" stroke-width="1.6" stroke-dasharray="4.2 5.3 1.9 5.3"/>
<line x1="288.56" y1="435.00" x2="288.56" y2="447.45" stroke="#48821a" stroke-width="1.6" stroke-dasharray="4.2 5.3 1.9 5.3"/>
<line x1="286.16" y1="412.55" x2="290.96" y2="412.55" stroke="#48821a" stroke-width="1.5" />
<line x1="286.16" y1="447.45" x2="290.96" y2="447.45" stroke="#48821a" stroke-width="1.5" />
<line x1="319.87" y1="383.10" x2="319.87" y2="367.83" stroke="#48821a" stroke-width="1.6" stroke-dasharray="4.2 5.3 1.9 5.3"/>
<line x1="319.87" y1="393.10" x2="319.87" y2="408.37" stroke="#48821a" stroke-width="1.6" stroke-dasharray="4.2 5.3 1.9 5.3"/>
<line x1="317.47" y1="367.83" x2="322.27" y2="367.83" stroke="#48821a" stroke-width="1.5" />
<line x1="317.47" y1="408.37" x2="322.27" y2="408.37" stroke="#48821a" stroke-width="1.5" />
<line x1="351.19" y1="412.00" x2="351.19" y2="395.17" stroke="#48821a" stroke-width="1.6" stroke-dasharray="4.2 5.3 1.9 5.3"/>
<line x1="351.19" y1="422.00" x2="351.19" y2="438.83" stroke="#48821a" stroke-width="1.6" stroke-dasharray="4.2 5.3 1.9 5.3"/>
<line x1="348.79" y1="395.17" x2="353.59" y2="395.17" stroke="#48821a" stroke-width="1.5" />
<line x1="348.79" y1="438.83" x2="353.59" y2="438.83" stroke="#48821a" stroke-width="1.5" />
<line x1="385.63" y1="423.50" x2="385.63" y2="409.89" stroke="#48821a" stroke-width="1.6" stroke-dasharray="4.2 5.3 1.9 5.3"/>
<line x1="385.63" y1="433.50" x2="385.63" y2="447.11" stroke="#48821a" stroke-width="1.6" stroke-dasharray="4.2 5.3 1.9 5.3"/>
<line x1="383.24" y1="409.89" x2="388.03" y2="409.89" stroke="#48821a" stroke-width="1.5" />
<line x1="383.24" y1="447.11" x2="388.03" y2="447.11" stroke="#48821a" stroke-width="1.5" />
<line x1="423.21" y1="476.10" x2="423.21" y2="463.21" stroke="#48821a" stroke-width="1.6" stroke-dasharray="4.2 5.3 1.9 5.3"/>
<line x1="423.21" y1="486.10" x2="423.21" y2="498.99" stroke="#48821a" stroke-width="1.6" stroke-dasharray="4.2 5.3 1.9 5.3"/>
<line x1="420.81" y1="463.21" x2="425.61" y2="463.21" stroke="#48821a" stroke-width="1.5" />
<line x1="420.81" y1="498.99" x2="425.61" y2="498.99" stroke="#48821a" stroke-width="1.5" />
<line x1="460.79" y1="480.90" x2="460.79" y2="470.96" stroke="#48821a" stroke-width="1.6" stroke-dasharray="4.2 5.3 1.9 5.3"/>
<line x1="460.79" y1="490.90" x2="460.79" y2="500.84" stroke="#48821a" stroke-width="1.6" stroke-dasharray="4.2 5.3 1.9 5.3"/>
<line x1="458.39" y1="470.96" x2="463.19" y2="470.96" stroke="#48821a" stroke-width="1.5" />
<line x1="458.39" y1="500.84" x2="463.19" y2="500.84" stroke="#48821a" stroke-width="1.5" />
<polygon points="117.69,597.40 127.49,597.40 122.59,606.60" fill="#48821a"/>
<polygon points="145.87,546.40 155.67,546.40 150.77,555.60" fill="#48821a"/>
<polygon points="164.66,499.00 174.46,499.00 169.56,508.20" fill="#48821a"/>
<polygon points="183.45,530.80 193.25,530.80 188.35,540.00" fill="#48821a"/>
<polygon points="205.37,458.90 215.17,458.90 210.27,468.10" fill="#48821a"/>
<polygon points="230.42,447.60 240.22,447.60 235.32,456.80" fill="#48821a"/>
<polygon points="255.47,389.60 265.27,389.60 260.38,398.80" fill="#48821a"/>
<polygon points="283.66,425.40 293.46,425.40 288.56,434.60" fill="#48821a"/>
<polygon points="314.97,383.50 324.77,383.50 319.87,392.70" fill="#48821a"/>
<polygon points="346.29,412.40 356.09,412.40 351.19,421.60" fill="#48821a"/>
<polygon points="380.74,423.90 390.53,423.90 385.63,433.10" fill="#48821a"/>
<polygon points="418.31,476.50 428.11,476.50 423.21,485.70" fill="#48821a"/>
<polygon points="455.89,481.30 465.69,481.30 460.79,490.50" fill="#48821a"/>
<polygon points="599.94,615.30 609.74,615.30 604.84,624.50" fill="#48821a"/>
</g>
<g clip-path="url(#cr)">
<line x1="91.30" y1="795.50" x2="742.00" y2="795.50" stroke="#000" stroke-width="1.25" />
<polyline points="122.59,823.70 150.77,856.50 169.56,811.30 188.35,819.50 210.27,837.60 235.32,769.80 260.38,793.30 288.56,802.70 319.87,814.40 351.19,767.50 385.63,792.50 423.21,800.50 460.79,791.00 604.84,752.20" fill="none" stroke="#692a4d" stroke-width="1.6" stroke-dasharray="7.2 3.8 1.9 3.8"/>
<line x1="122.59" y1="818.70" x2="122.59" y2="784.52" stroke="#692a4d" stroke-width="1.6" stroke-dasharray="7.2 3.8 1.9 3.8"/>
<line x1="120.19" y1="784.52" x2="124.99" y2="784.52" stroke="#692a4d" stroke-width="1.5" />
<line x1="122.59" y1="828.70" x2="122.59" y2="874.21" stroke="#692a4d" stroke-width="1.6" stroke-dasharray="7.2 3.8 1.9 3.8"/>
<line x1="120.19" y1="874.21" x2="124.99" y2="874.21" stroke="#692a4d" stroke-width="1.5" />
<line x1="150.77" y1="851.50" x2="150.77" y2="811.79" stroke="#692a4d" stroke-width="1.6" stroke-dasharray="7.2 3.8 1.9 3.8"/>
<line x1="148.37" y1="811.79" x2="153.17" y2="811.79" stroke="#692a4d" stroke-width="1.5" />
<line x1="150.77" y1="861.50" x2="150.77" y2="916.63" stroke="#692a4d" stroke-width="1.6" stroke-dasharray="7.2 3.8 1.9 3.8"/>
<line x1="148.37" y1="916.63" x2="153.17" y2="916.63" stroke="#692a4d" stroke-width="1.5" />
<line x1="169.56" y1="806.30" x2="169.56" y2="783.73" stroke="#692a4d" stroke-width="1.6" stroke-dasharray="7.2 3.8 1.9 3.8"/>
<line x1="167.16" y1="783.73" x2="171.96" y2="783.73" stroke="#692a4d" stroke-width="1.5" />
<line x1="169.56" y1="816.30" x2="169.56" y2="844.01" stroke="#692a4d" stroke-width="1.6" stroke-dasharray="7.2 3.8 1.9 3.8"/>
<line x1="167.16" y1="844.01" x2="171.96" y2="844.01" stroke="#692a4d" stroke-width="1.5" />
<line x1="188.35" y1="814.50" x2="188.35" y2="793.44" stroke="#692a4d" stroke-width="1.6" stroke-dasharray="7.2 3.8 1.9 3.8"/>
<line x1="185.95" y1="793.44" x2="190.75" y2="793.44" stroke="#692a4d" stroke-width="1.5" />
<line x1="188.35" y1="824.50" x2="188.35" y2="850.11" stroke="#692a4d" stroke-width="1.6" stroke-dasharray="7.2 3.8 1.9 3.8"/>
<line x1="185.95" y1="850.11" x2="190.75" y2="850.11" stroke="#692a4d" stroke-width="1.5" />
<line x1="210.27" y1="832.60" x2="210.27" y2="812.15" stroke="#692a4d" stroke-width="1.6" stroke-dasharray="7.2 3.8 1.9 3.8"/>
<line x1="207.87" y1="812.15" x2="212.67" y2="812.15" stroke="#692a4d" stroke-width="1.5" />
<line x1="210.27" y1="842.60" x2="210.27" y2="867.38" stroke="#692a4d" stroke-width="1.6" stroke-dasharray="7.2 3.8 1.9 3.8"/>
<line x1="207.87" y1="867.38" x2="212.67" y2="867.38" stroke="#692a4d" stroke-width="1.5" />
<line x1="235.32" y1="764.80" x2="235.32" y2="749.90" stroke="#692a4d" stroke-width="1.6" stroke-dasharray="7.2 3.8 1.9 3.8"/>
<line x1="232.92" y1="749.90" x2="237.72" y2="749.90" stroke="#692a4d" stroke-width="1.5" />
<line x1="235.32" y1="774.80" x2="235.32" y2="792.24" stroke="#692a4d" stroke-width="1.6" stroke-dasharray="7.2 3.8 1.9 3.8"/>
<line x1="232.92" y1="792.24" x2="237.72" y2="792.24" stroke="#692a4d" stroke-width="1.5" />
<line x1="260.38" y1="788.30" x2="260.38" y2="776.57" stroke="#692a4d" stroke-width="1.6" stroke-dasharray="7.2 3.8 1.9 3.8"/>
<line x1="257.98" y1="776.57" x2="262.77" y2="776.57" stroke="#692a4d" stroke-width="1.5" />
<line x1="260.38" y1="798.30" x2="260.38" y2="811.80" stroke="#692a4d" stroke-width="1.6" stroke-dasharray="7.2 3.8 1.9 3.8"/>
<line x1="257.98" y1="811.80" x2="262.77" y2="811.80" stroke="#692a4d" stroke-width="1.5" />
<line x1="288.56" y1="797.70" x2="288.56" y2="785.97" stroke="#692a4d" stroke-width="1.6" stroke-dasharray="7.2 3.8 1.9 3.8"/>
<line x1="286.16" y1="785.97" x2="290.96" y2="785.97" stroke="#692a4d" stroke-width="1.5" />
<line x1="288.56" y1="807.70" x2="288.56" y2="821.20" stroke="#692a4d" stroke-width="1.6" stroke-dasharray="7.2 3.8 1.9 3.8"/>
<line x1="286.16" y1="821.20" x2="290.96" y2="821.20" stroke="#692a4d" stroke-width="1.5" />
<line x1="319.87" y1="809.40" x2="319.87" y2="796.87" stroke="#692a4d" stroke-width="1.6" stroke-dasharray="7.2 3.8 1.9 3.8"/>
<line x1="317.47" y1="796.87" x2="322.27" y2="796.87" stroke="#692a4d" stroke-width="1.5" />
<line x1="319.87" y1="819.40" x2="319.87" y2="833.88" stroke="#692a4d" stroke-width="1.6" stroke-dasharray="7.2 3.8 1.9 3.8"/>
<line x1="317.47" y1="833.88" x2="322.27" y2="833.88" stroke="#692a4d" stroke-width="1.5" />
<line x1="351.19" y1="762.50" x2="351.19" y2="750.77" stroke="#692a4d" stroke-width="1.6" stroke-dasharray="7.2 3.8 1.9 3.8"/>
<line x1="348.79" y1="750.77" x2="353.59" y2="750.77" stroke="#692a4d" stroke-width="1.5" />
<line x1="351.19" y1="772.50" x2="351.19" y2="786.00" stroke="#692a4d" stroke-width="1.6" stroke-dasharray="7.2 3.8 1.9 3.8"/>
<line x1="348.79" y1="786.00" x2="353.59" y2="786.00" stroke="#692a4d" stroke-width="1.5" />
<line x1="385.63" y1="787.50" x2="385.63" y2="777.37" stroke="#692a4d" stroke-width="1.6" stroke-dasharray="7.2 3.8 1.9 3.8"/>
<line x1="383.24" y1="777.37" x2="388.03" y2="777.37" stroke="#692a4d" stroke-width="1.5" />
<line x1="385.63" y1="797.50" x2="385.63" y2="809.06" stroke="#692a4d" stroke-width="1.6" stroke-dasharray="7.2 3.8 1.9 3.8"/>
<line x1="383.24" y1="809.06" x2="388.03" y2="809.06" stroke="#692a4d" stroke-width="1.5" />
<line x1="423.21" y1="795.50" x2="423.21" y2="783.77" stroke="#692a4d" stroke-width="1.6" stroke-dasharray="7.2 3.8 1.9 3.8"/>
<line x1="420.81" y1="783.77" x2="425.61" y2="783.77" stroke="#692a4d" stroke-width="1.5" />
<line x1="423.21" y1="805.50" x2="423.21" y2="819.00" stroke="#692a4d" stroke-width="1.6" stroke-dasharray="7.2 3.8 1.9 3.8"/>
<line x1="420.81" y1="819.00" x2="425.61" y2="819.00" stroke="#692a4d" stroke-width="1.5" />
<line x1="460.79" y1="786.00" x2="460.79" y2="769.54" stroke="#692a4d" stroke-width="1.6" stroke-dasharray="7.2 3.8 1.9 3.8"/>
<line x1="458.39" y1="769.54" x2="463.19" y2="769.54" stroke="#692a4d" stroke-width="1.5" />
<line x1="460.79" y1="796.00" x2="460.79" y2="815.45" stroke="#692a4d" stroke-width="1.6" stroke-dasharray="7.2 3.8 1.9 3.8"/>
<line x1="458.39" y1="815.45" x2="463.19" y2="815.45" stroke="#692a4d" stroke-width="1.5" />
<line x1="604.84" y1="747.20" x2="604.84" y2="730.74" stroke="#692a4d" stroke-width="1.6" stroke-dasharray="7.2 3.8 1.9 3.8"/>
<line x1="602.44" y1="730.74" x2="607.24" y2="730.74" stroke="#692a4d" stroke-width="1.5" />
<line x1="604.84" y1="757.20" x2="604.84" y2="776.65" stroke="#692a4d" stroke-width="1.6" stroke-dasharray="7.2 3.8 1.9 3.8"/>
<line x1="602.44" y1="776.65" x2="607.24" y2="776.65" stroke="#692a4d" stroke-width="1.5" />
<rect x="117.69" y="818.80" width="9.8" height="9.8" fill="none" stroke="#692a4d" stroke-width="1.3"/>
<rect x="145.87" y="851.60" width="9.8" height="9.8" fill="none" stroke="#692a4d" stroke-width="1.3"/>
<rect x="164.66" y="806.40" width="9.8" height="9.8" fill="none" stroke="#692a4d" stroke-width="1.3"/>
<rect x="183.45" y="814.60" width="9.8" height="9.8" fill="none" stroke="#692a4d" stroke-width="1.3"/>
<rect x="205.37" y="832.70" width="9.8" height="9.8" fill="none" stroke="#692a4d" stroke-width="1.3"/>
<rect x="230.42" y="764.90" width="9.8" height="9.8" fill="none" stroke="#692a4d" stroke-width="1.3"/>
<rect x="255.47" y="788.40" width="9.8" height="9.8" fill="none" stroke="#692a4d" stroke-width="1.3"/>
<rect x="283.66" y="797.80" width="9.8" height="9.8" fill="none" stroke="#692a4d" stroke-width="1.3"/>
<rect x="314.97" y="809.50" width="9.8" height="9.8" fill="none" stroke="#692a4d" stroke-width="1.3"/>
<rect x="346.29" y="762.60" width="9.8" height="9.8" fill="none" stroke="#692a4d" stroke-width="1.3"/>
<rect x="380.74" y="787.60" width="9.8" height="9.8" fill="none" stroke="#692a4d" stroke-width="1.3"/>
<rect x="418.31" y="795.60" width="9.8" height="9.8" fill="none" stroke="#692a4d" stroke-width="1.3"/>
<rect x="455.89" y="786.10" width="9.8" height="9.8" fill="none" stroke="#692a4d" stroke-width="1.3"/>
<rect x="599.94" y="747.30" width="9.8" height="9.8" fill="none" stroke="#692a4d" stroke-width="1.3"/>
<polyline points="122.59,928.00 150.77,856.50 169.56,751.60 188.35,770.80 210.27,806.80 235.32,797.50 260.38,812.30 288.56,802.70 319.87,792.50 351.19,774.50 385.63,816.70 423.21,800.80 460.79,779.00 604.84,744.60" fill="none" stroke="#7d7040" stroke-width="1.6" stroke-dasharray="4.2 5.3 1.9 5.3"/>
<line x1="122.59" y1="923.00" x2="122.59" y2="888.82" stroke="#7d7040" stroke-width="1.6" stroke-dasharray="4.2 5.3 1.9 5.3"/>
<line x1="120.19" y1="888.82" x2="124.99" y2="888.82" stroke="#7d7040" stroke-width="1.5" />
<line x1="122.59" y1="933.00" x2="122.59" y2="978.51" stroke="#7d7040" stroke-width="1.6" stroke-dasharray="4.2 5.3 1.9 5.3"/>
<line x1="120.19" y1="978.51" x2="124.99" y2="978.51" stroke="#7d7040" stroke-width="1.5" />
<line x1="150.77" y1="851.50" x2="150.77" y2="810.44" stroke="#7d7040" stroke-width="1.6" stroke-dasharray="4.2 5.3 1.9 5.3"/>
<line x1="148.37" y1="810.44" x2="153.17" y2="810.44" stroke="#7d7040" stroke-width="1.5" />
<line x1="150.77" y1="861.50" x2="150.77" y2="919.12" stroke="#7d7040" stroke-width="1.6" stroke-dasharray="4.2 5.3 1.9 5.3"/>
<line x1="148.37" y1="919.12" x2="153.17" y2="919.12" stroke="#7d7040" stroke-width="1.5" />
<line x1="169.56" y1="746.60" x2="169.56" y2="724.03" stroke="#7d7040" stroke-width="1.6" stroke-dasharray="4.2 5.3 1.9 5.3"/>
<line x1="167.16" y1="724.03" x2="171.96" y2="724.03" stroke="#7d7040" stroke-width="1.5" />
<line x1="169.56" y1="756.60" x2="169.56" y2="784.31" stroke="#7d7040" stroke-width="1.6" stroke-dasharray="4.2 5.3 1.9 5.3"/>
<line x1="167.16" y1="784.31" x2="171.96" y2="784.31" stroke="#7d7040" stroke-width="1.5" />
<line x1="188.35" y1="765.80" x2="188.35" y2="745.35" stroke="#7d7040" stroke-width="1.6" stroke-dasharray="4.2 5.3 1.9 5.3"/>
<line x1="185.95" y1="745.35" x2="190.75" y2="745.35" stroke="#7d7040" stroke-width="1.5" />
<line x1="188.35" y1="775.80" x2="188.35" y2="800.58" stroke="#7d7040" stroke-width="1.6" stroke-dasharray="4.2 5.3 1.9 5.3"/>
<line x1="185.95" y1="800.58" x2="190.75" y2="800.58" stroke="#7d7040" stroke-width="1.5" />
<line x1="210.27" y1="801.80" x2="210.27" y2="786.90" stroke="#7d7040" stroke-width="1.6" stroke-dasharray="4.2 5.3 1.9 5.3"/>
<line x1="207.87" y1="786.90" x2="212.67" y2="786.90" stroke="#7d7040" stroke-width="1.5" />
<line x1="210.27" y1="811.80" x2="210.27" y2="829.24" stroke="#7d7040" stroke-width="1.6" stroke-dasharray="4.2 5.3 1.9 5.3"/>
<line x1="207.87" y1="829.24" x2="212.67" y2="829.24" stroke="#7d7040" stroke-width="1.5" />
<line x1="235.32" y1="792.50" x2="235.32" y2="780.77" stroke="#7d7040" stroke-width="1.6" stroke-dasharray="4.2 5.3 1.9 5.3"/>
<line x1="232.92" y1="780.77" x2="237.72" y2="780.77" stroke="#7d7040" stroke-width="1.5" />
<line x1="235.32" y1="802.50" x2="235.32" y2="816.00" stroke="#7d7040" stroke-width="1.6" stroke-dasharray="4.2 5.3 1.9 5.3"/>
<line x1="232.92" y1="816.00" x2="237.72" y2="816.00" stroke="#7d7040" stroke-width="1.5" />
<line x1="260.38" y1="807.30" x2="260.38" y2="795.57" stroke="#7d7040" stroke-width="1.6" stroke-dasharray="4.2 5.3 1.9 5.3"/>
<line x1="257.98" y1="795.57" x2="262.77" y2="795.57" stroke="#7d7040" stroke-width="1.5" />
<line x1="260.38" y1="817.30" x2="260.38" y2="830.80" stroke="#7d7040" stroke-width="1.6" stroke-dasharray="4.2 5.3 1.9 5.3"/>
<line x1="257.98" y1="830.80" x2="262.77" y2="830.80" stroke="#7d7040" stroke-width="1.5" />
<line x1="288.56" y1="797.70" x2="288.56" y2="787.57" stroke="#7d7040" stroke-width="1.6" stroke-dasharray="4.2 5.3 1.9 5.3"/>
<line x1="286.16" y1="787.57" x2="290.96" y2="787.57" stroke="#7d7040" stroke-width="1.5" />
<line x1="288.56" y1="807.70" x2="288.56" y2="819.26" stroke="#7d7040" stroke-width="1.6" stroke-dasharray="4.2 5.3 1.9 5.3"/>
<line x1="286.16" y1="819.26" x2="290.96" y2="819.26" stroke="#7d7040" stroke-width="1.5" />
<line x1="319.87" y1="787.50" x2="319.87" y2="777.37" stroke="#7d7040" stroke-width="1.6" stroke-dasharray="4.2 5.3 1.9 5.3"/>
<line x1="317.47" y1="777.37" x2="322.27" y2="777.37" stroke="#7d7040" stroke-width="1.5" />
<line x1="319.87" y1="797.50" x2="319.87" y2="809.06" stroke="#7d7040" stroke-width="1.6" stroke-dasharray="4.2 5.3 1.9 5.3"/>
<line x1="317.47" y1="809.06" x2="322.27" y2="809.06" stroke="#7d7040" stroke-width="1.5" />
<line x1="351.19" y1="769.50" x2="351.19" y2="758.25" stroke="#7d7040" stroke-width="1.6" stroke-dasharray="4.2 5.3 1.9 5.3"/>
<line x1="348.79" y1="758.25" x2="353.59" y2="758.25" stroke="#7d7040" stroke-width="1.5" />
<line x1="351.19" y1="779.50" x2="351.19" y2="792.41" stroke="#7d7040" stroke-width="1.6" stroke-dasharray="4.2 5.3 1.9 5.3"/>
<line x1="348.79" y1="792.41" x2="353.59" y2="792.41" stroke="#7d7040" stroke-width="1.5" />
<line x1="385.63" y1="811.70" x2="385.63" y2="799.17" stroke="#7d7040" stroke-width="1.6" stroke-dasharray="4.2 5.3 1.9 5.3"/>
<line x1="383.24" y1="799.17" x2="388.03" y2="799.17" stroke="#7d7040" stroke-width="1.5" />
<line x1="385.63" y1="821.70" x2="385.63" y2="836.18" stroke="#7d7040" stroke-width="1.6" stroke-dasharray="4.2 5.3 1.9 5.3"/>
<line x1="383.24" y1="836.18" x2="388.03" y2="836.18" stroke="#7d7040" stroke-width="1.5" />
<line x1="423.21" y1="795.80" x2="423.21" y2="784.07" stroke="#7d7040" stroke-width="1.6" stroke-dasharray="4.2 5.3 1.9 5.3"/>
<line x1="420.81" y1="784.07" x2="425.61" y2="784.07" stroke="#7d7040" stroke-width="1.5" />
<line x1="423.21" y1="805.80" x2="423.21" y2="819.30" stroke="#7d7040" stroke-width="1.6" stroke-dasharray="4.2 5.3 1.9 5.3"/>
<line x1="420.81" y1="819.30" x2="425.61" y2="819.30" stroke="#7d7040" stroke-width="1.5" />
<line x1="460.79" y1="774.00" x2="460.79" y2="760.68" stroke="#7d7040" stroke-width="1.6" stroke-dasharray="4.2 5.3 1.9 5.3"/>
<line x1="458.39" y1="760.68" x2="463.19" y2="760.68" stroke="#7d7040" stroke-width="1.5" />
<line x1="460.79" y1="784.00" x2="460.79" y2="799.46" stroke="#7d7040" stroke-width="1.6" stroke-dasharray="4.2 5.3 1.9 5.3"/>
<line x1="458.39" y1="799.46" x2="463.19" y2="799.46" stroke="#7d7040" stroke-width="1.5" />
<line x1="604.84" y1="739.60" x2="604.84" y2="723.92" stroke="#7d7040" stroke-width="1.6" stroke-dasharray="4.2 5.3 1.9 5.3"/>
<line x1="602.44" y1="723.92" x2="607.24" y2="723.92" stroke="#7d7040" stroke-width="1.5" />
<line x1="604.84" y1="749.60" x2="604.84" y2="768.04" stroke="#7d7040" stroke-width="1.6" stroke-dasharray="4.2 5.3 1.9 5.3"/>
<line x1="602.44" y1="768.04" x2="607.24" y2="768.04" stroke="#7d7040" stroke-width="1.5" />
<polygon points="120.99,923.00 124.19,923.00 124.19,926.40 127.59,926.40 127.59,929.60 124.19,929.60 124.19,933.00 120.99,933.00 120.99,929.60 117.59,929.60 117.59,926.40 120.99,926.40" fill="none" stroke="#7d7040" stroke-width="1.3"/>
<polygon points="149.17,851.50 152.37,851.50 152.37,854.90 155.77,854.90 155.77,858.10 152.37,858.10 152.37,861.50 149.17,861.50 149.17,858.10 145.77,858.10 145.77,854.90 149.17,854.90" fill="none" stroke="#7d7040" stroke-width="1.3"/>
<polygon points="167.96,746.60 171.16,746.60 171.16,750.00 174.56,750.00 174.56,753.20 171.16,753.20 171.16,756.60 167.96,756.60 167.96,753.20 164.56,753.20 164.56,750.00 167.96,750.00" fill="none" stroke="#7d7040" stroke-width="1.3"/>
<polygon points="186.75,765.80 189.95,765.80 189.95,769.20 193.35,769.20 193.35,772.40 189.95,772.40 189.95,775.80 186.75,775.80 186.75,772.40 183.35,772.40 183.35,769.20 186.75,769.20" fill="none" stroke="#7d7040" stroke-width="1.3"/>
<polygon points="208.67,801.80 211.87,801.80 211.87,805.20 215.27,805.20 215.27,808.40 211.87,808.40 211.87,811.80 208.67,811.80 208.67,808.40 205.27,808.40 205.27,805.20 208.67,805.20" fill="none" stroke="#7d7040" stroke-width="1.3"/>
<polygon points="233.72,792.50 236.92,792.50 236.92,795.90 240.32,795.90 240.32,799.10 236.92,799.10 236.92,802.50 233.72,802.50 233.72,799.10 230.32,799.10 230.32,795.90 233.72,795.90" fill="none" stroke="#7d7040" stroke-width="1.3"/>
<polygon points="258.77,807.30 261.98,807.30 261.98,810.70 265.38,810.70 265.38,813.90 261.98,813.90 261.98,817.30 258.77,817.30 258.77,813.90 255.38,813.90 255.38,810.70 258.77,810.70" fill="none" stroke="#7d7040" stroke-width="1.3"/>
<polygon points="286.96,797.70 290.16,797.70 290.16,801.10 293.56,801.10 293.56,804.30 290.16,804.30 290.16,807.70 286.96,807.70 286.96,804.30 283.56,804.30 283.56,801.10 286.96,801.10" fill="none" stroke="#7d7040" stroke-width="1.3"/>
<polygon points="318.27,787.50 321.47,787.50 321.47,790.90 324.87,790.90 324.87,794.10 321.47,794.10 321.47,797.50 318.27,797.50 318.27,794.10 314.87,794.10 314.87,790.90 318.27,790.90" fill="none" stroke="#7d7040" stroke-width="1.3"/>
<polygon points="349.59,769.50 352.79,769.50 352.79,772.90 356.19,772.90 356.19,776.10 352.79,776.10 352.79,779.50 349.59,779.50 349.59,776.10 346.19,776.10 346.19,772.90 349.59,772.90" fill="none" stroke="#7d7040" stroke-width="1.3"/>
<polygon points="384.03,811.70 387.24,811.70 387.24,815.10 390.63,815.10 390.63,818.30 387.24,818.30 387.24,821.70 384.03,821.70 384.03,818.30 380.63,818.30 380.63,815.10 384.03,815.10" fill="none" stroke="#7d7040" stroke-width="1.3"/>
<polygon points="421.61,795.80 424.81,795.80 424.81,799.20 428.21,799.20 428.21,802.40 424.81,802.40 424.81,805.80 421.61,805.80 421.61,802.40 418.21,802.40 418.21,799.20 421.61,799.20" fill="none" stroke="#7d7040" stroke-width="1.3"/>
<polygon points="459.19,774.00 462.39,774.00 462.39,777.40 465.79,777.40 465.79,780.60 462.39,780.60 462.39,784.00 459.19,784.00 459.19,780.60 455.79,780.60 455.79,777.40 459.19,777.40" fill="none" stroke="#7d7040" stroke-width="1.3"/>
<polygon points="603.24,739.60 606.44,739.60 606.44,743.00 609.84,743.00 609.84,746.20 606.44,746.20 606.44,749.60 603.24,749.60 603.24,746.20 599.84,746.20 599.84,743.00 603.24,743.00" fill="none" stroke="#7d7040" stroke-width="1.3"/>
<polyline points="122.59,824.50 150.77,781.30 169.56,849.20 188.35,789.80 210.27,794.30 235.32,813.60 260.38,828.80 288.56,810.50 319.87,799.50 351.19,787.50 385.63,788.60 423.21,775.30 460.79,790.00 604.84,751.50" fill="none" stroke="#6b4c32" stroke-width="1.6" stroke-dasharray="4.2 5.3 1.9 5.3"/>
<line x1="122.59" y1="819.50" x2="122.59" y2="785.32" stroke="#6b4c32" stroke-width="1.6" stroke-dasharray="4.2 5.3 1.9 5.3"/>
<line x1="120.19" y1="785.32" x2="124.99" y2="785.32" stroke="#6b4c32" stroke-width="1.5" />
<line x1="122.59" y1="829.50" x2="122.59" y2="875.01" stroke="#6b4c32" stroke-width="1.6" stroke-dasharray="4.2 5.3 1.9 5.3"/>
<line x1="120.19" y1="875.01" x2="124.99" y2="875.01" stroke="#6b4c32" stroke-width="1.5" />
<line x1="150.77" y1="776.30" x2="150.77" y2="746.39" stroke="#6b4c32" stroke-width="1.6" stroke-dasharray="4.2 5.3 1.9 5.3"/>
<line x1="148.37" y1="746.39" x2="153.17" y2="746.39" stroke="#6b4c32" stroke-width="1.5" />
<line x1="150.77" y1="786.30" x2="150.77" y2="824.92" stroke="#6b4c32" stroke-width="1.6" stroke-dasharray="4.2 5.3 1.9 5.3"/>
<line x1="148.37" y1="824.92" x2="153.17" y2="824.92" stroke="#6b4c32" stroke-width="1.5" />
<line x1="169.56" y1="844.20" x2="169.56" y2="814.29" stroke="#6b4c32" stroke-width="1.6" stroke-dasharray="4.2 5.3 1.9 5.3"/>
<line x1="167.16" y1="814.29" x2="171.96" y2="814.29" stroke="#6b4c32" stroke-width="1.5" />
<line x1="169.56" y1="854.20" x2="169.56" y2="892.82" stroke="#6b4c32" stroke-width="1.6" stroke-dasharray="4.2 5.3 1.9 5.3"/>
<line x1="167.16" y1="892.82" x2="171.96" y2="892.82" stroke="#6b4c32" stroke-width="1.5" />
<line x1="188.35" y1="784.80" x2="188.35" y2="766.79" stroke="#6b4c32" stroke-width="1.6" stroke-dasharray="4.2 5.3 1.9 5.3"/>
<line x1="185.95" y1="766.79" x2="190.75" y2="766.79" stroke="#6b4c32" stroke-width="1.5" />
<line x1="188.35" y1="794.80" x2="188.35" y2="816.28" stroke="#6b4c32" stroke-width="1.6" stroke-dasharray="4.2 5.3 1.9 5.3"/>
<line x1="185.95" y1="816.28" x2="190.75" y2="816.28" stroke="#6b4c32" stroke-width="1.5" />
<line x1="210.27" y1="789.30" x2="210.27" y2="772.84" stroke="#6b4c32" stroke-width="1.6" stroke-dasharray="4.2 5.3 1.9 5.3"/>
<line x1="207.87" y1="772.84" x2="212.67" y2="772.84" stroke="#6b4c32" stroke-width="1.5" />
<line x1="210.27" y1="799.30" x2="210.27" y2="818.75" stroke="#6b4c32" stroke-width="1.6" stroke-dasharray="4.2 5.3 1.9 5.3"/>
<line x1="207.87" y1="818.75" x2="212.67" y2="818.75" stroke="#6b4c32" stroke-width="1.5" />
<line x1="235.32" y1="808.60" x2="235.32" y2="792.14" stroke="#6b4c32" stroke-width="1.6" stroke-dasharray="4.2 5.3 1.9 5.3"/>
<line x1="232.92" y1="792.14" x2="237.72" y2="792.14" stroke="#6b4c32" stroke-width="1.5" />
<line x1="235.32" y1="818.60" x2="235.32" y2="838.05" stroke="#6b4c32" stroke-width="1.6" stroke-dasharray="4.2 5.3 1.9 5.3"/>
<line x1="232.92" y1="838.05" x2="237.72" y2="838.05" stroke="#6b4c32" stroke-width="1.5" />
<line x1="260.38" y1="823.80" x2="260.38" y2="807.81" stroke="#6b4c32" stroke-width="1.6" stroke-dasharray="4.2 5.3 1.9 5.3"/>
<line x1="257.98" y1="807.81" x2="262.77" y2="807.81" stroke="#6b4c32" stroke-width="1.5" />
<line x1="260.38" y1="833.80" x2="260.38" y2="852.65" stroke="#6b4c32" stroke-width="1.6" stroke-dasharray="4.2 5.3 1.9 5.3"/>
<line x1="257.98" y1="852.65" x2="262.77" y2="852.65" stroke="#6b4c32" stroke-width="1.5" />
<line x1="288.56" y1="805.50" x2="288.56" y2="793.77" stroke="#6b4c32" stroke-width="1.6" stroke-dasharray="4.2 5.3 1.9 5.3"/>
<line x1="286.16" y1="793.77" x2="290.96" y2="793.77" stroke="#6b4c32" stroke-width="1.5" />
<line x1="288.56" y1="815.50" x2="288.56" y2="829.00" stroke="#6b4c32" stroke-width="1.6" stroke-dasharray="4.2 5.3 1.9 5.3"/>
<line x1="286.16" y1="829.00" x2="290.96" y2="829.00" stroke="#6b4c32" stroke-width="1.5" />
<line x1="319.87" y1="794.50" x2="319.87" y2="784.37" stroke="#6b4c32" stroke-width="1.6" stroke-dasharray="4.2 5.3 1.9 5.3"/>
<line x1="317.47" y1="784.37" x2="322.27" y2="784.37" stroke="#6b4c32" stroke-width="1.5" />
<line x1="319.87" y1="804.50" x2="319.87" y2="816.06" stroke="#6b4c32" stroke-width="1.6" stroke-dasharray="4.2 5.3 1.9 5.3"/>
<line x1="317.47" y1="816.06" x2="322.27" y2="816.06" stroke="#6b4c32" stroke-width="1.5" />
<line x1="351.19" y1="782.50" x2="351.19" y2="772.37" stroke="#6b4c32" stroke-width="1.6" stroke-dasharray="4.2 5.3 1.9 5.3"/>
<line x1="348.79" y1="772.37" x2="353.59" y2="772.37" stroke="#6b4c32" stroke-width="1.5" />
<line x1="351.19" y1="792.50" x2="351.19" y2="804.06" stroke="#6b4c32" stroke-width="1.6" stroke-dasharray="4.2 5.3 1.9 5.3"/>
<line x1="348.79" y1="804.06" x2="353.59" y2="804.06" stroke="#6b4c32" stroke-width="1.5" />
<line x1="385.63" y1="783.60" x2="385.63" y2="772.67" stroke="#6b4c32" stroke-width="1.6" stroke-dasharray="4.2 5.3 1.9 5.3"/>
<line x1="383.24" y1="772.67" x2="388.03" y2="772.67" stroke="#6b4c32" stroke-width="1.5" />
<line x1="385.63" y1="793.60" x2="385.63" y2="806.13" stroke="#6b4c32" stroke-width="1.6" stroke-dasharray="4.2 5.3 1.9 5.3"/>
<line x1="383.24" y1="806.13" x2="388.03" y2="806.13" stroke="#6b4c32" stroke-width="1.5" />
<line x1="423.21" y1="770.30" x2="423.21" y2="759.05" stroke="#6b4c32" stroke-width="1.6" stroke-dasharray="4.2 5.3 1.9 5.3"/>
<line x1="420.81" y1="759.05" x2="425.61" y2="759.05" stroke="#6b4c32" stroke-width="1.5" />
<line x1="423.21" y1="780.30" x2="423.21" y2="793.21" stroke="#6b4c32" stroke-width="1.6" stroke-dasharray="4.2 5.3 1.9 5.3"/>
<line x1="420.81" y1="793.21" x2="425.61" y2="793.21" stroke="#6b4c32" stroke-width="1.5" />
<line x1="460.79" y1="785.00" x2="460.79" y2="770.10" stroke="#6b4c32" stroke-width="1.6" stroke-dasharray="4.2 5.3 1.9 5.3"/>
<line x1="458.39" y1="770.10" x2="463.19" y2="770.10" stroke="#6b4c32" stroke-width="1.5" />
<line x1="460.79" y1="795.00" x2="460.79" y2="812.44" stroke="#6b4c32" stroke-width="1.6" stroke-dasharray="4.2 5.3 1.9 5.3"/>
<line x1="458.39" y1="812.44" x2="463.19" y2="812.44" stroke="#6b4c32" stroke-width="1.5" />
<line x1="604.84" y1="746.50" x2="604.84" y2="728.49" stroke="#6b4c32" stroke-width="1.6" stroke-dasharray="4.2 5.3 1.9 5.3"/>
<line x1="602.44" y1="728.49" x2="607.24" y2="728.49" stroke="#6b4c32" stroke-width="1.5" />
<line x1="604.84" y1="756.50" x2="604.84" y2="777.98" stroke="#6b4c32" stroke-width="1.6" stroke-dasharray="4.2 5.3 1.9 5.3"/>
<line x1="602.44" y1="777.98" x2="607.24" y2="777.98" stroke="#6b4c32" stroke-width="1.5" />
<circle cx="122.59" cy="824.50" r="4.9" fill="#6b4c32"/>
<circle cx="150.77" cy="781.30" r="4.9" fill="#6b4c32"/>
<circle cx="169.56" cy="849.20" r="4.9" fill="#6b4c32"/>
<circle cx="188.35" cy="789.80" r="4.9" fill="#6b4c32"/>
<circle cx="210.27" cy="794.30" r="4.9" fill="#6b4c32"/>
<circle cx="235.32" cy="813.60" r="4.9" fill="#6b4c32"/>
<circle cx="260.38" cy="828.80" r="4.9" fill="#6b4c32"/>
<circle cx="288.56" cy="810.50" r="4.9" fill="#6b4c32"/>
<circle cx="319.87" cy="799.50" r="4.9" fill="#6b4c32"/>
<circle cx="351.19" cy="787.50" r="4.9" fill="#6b4c32"/>
<circle cx="385.63" cy="788.60" r="4.9" fill="#6b4c32"/>
<circle cx="423.21" cy="775.30" r="4.9" fill="#6b4c32"/>
<circle cx="460.79" cy="790.00" r="4.9" fill="#6b4c32"/>
<circle cx="604.84" cy="751.50" r="4.9" fill="#6b4c32"/>
<polyline points="122.59,824.60 150.77,765.60 169.56,753.90 188.35,852.60 210.27,787.60 235.32,798.00 260.38,768.30 288.56,808.90 319.87,788.60 351.19,800.30 385.63,802.20 423.21,816.00 460.79,764.60 604.84,787.70" fill="none" stroke="#48821a" stroke-width="1.6" stroke-dasharray="4.2 5.3 1.9 5.3"/>
<line x1="122.59" y1="819.60" x2="122.59" y2="785.42" stroke="#48821a" stroke-width="1.6" stroke-dasharray="4.2 5.3 1.9 5.3"/>
<line x1="120.19" y1="785.42" x2="124.99" y2="785.42" stroke="#48821a" stroke-width="1.5" />
<line x1="122.59" y1="829.60" x2="122.59" y2="875.11" stroke="#48821a" stroke-width="1.6" stroke-dasharray="4.2 5.3 1.9 5.3"/>
<line x1="120.19" y1="875.11" x2="124.99" y2="875.11" stroke="#48821a" stroke-width="1.5" />
<line x1="150.77" y1="760.60" x2="150.77" y2="733.59" stroke="#48821a" stroke-width="1.6" stroke-dasharray="4.2 5.3 1.9 5.3"/>
<line x1="148.37" y1="733.59" x2="153.17" y2="733.59" stroke="#48821a" stroke-width="1.5" />
<line x1="150.77" y1="770.60" x2="150.77" y2="804.78" stroke="#48821a" stroke-width="1.6" stroke-dasharray="4.2 5.3 1.9 5.3"/>
<line x1="148.37" y1="804.78" x2="153.17" y2="804.78" stroke="#48821a" stroke-width="1.5" />
<line x1="169.56" y1="748.90" x2="169.56" y2="729.36" stroke="#48821a" stroke-width="1.6" stroke-dasharray="4.2 5.3 1.9 5.3"/>
<line x1="167.16" y1="729.36" x2="171.96" y2="729.36" stroke="#48821a" stroke-width="1.5" />
<line x1="169.56" y1="758.90" x2="169.56" y2="782.43" stroke="#48821a" stroke-width="1.6" stroke-dasharray="4.2 5.3 1.9 5.3"/>
<line x1="167.16" y1="782.43" x2="171.96" y2="782.43" stroke="#48821a" stroke-width="1.5" />
<line x1="188.35" y1="847.60" x2="188.35" y2="820.59" stroke="#48821a" stroke-width="1.6" stroke-dasharray="4.2 5.3 1.9 5.3"/>
<line x1="185.95" y1="820.59" x2="190.75" y2="820.59" stroke="#48821a" stroke-width="1.5" />
<line x1="188.35" y1="857.60" x2="188.35" y2="891.78" stroke="#48821a" stroke-width="1.6" stroke-dasharray="4.2 5.3 1.9 5.3"/>
<line x1="185.95" y1="891.78" x2="190.75" y2="891.78" stroke="#48821a" stroke-width="1.5" />
<line x1="210.27" y1="782.60" x2="210.27" y2="769.28" stroke="#48821a" stroke-width="1.6" stroke-dasharray="4.2 5.3 1.9 5.3"/>
<line x1="207.87" y1="769.28" x2="212.67" y2="769.28" stroke="#48821a" stroke-width="1.5" />
<line x1="210.27" y1="792.60" x2="210.27" y2="808.06" stroke="#48821a" stroke-width="1.6" stroke-dasharray="4.2 5.3 1.9 5.3"/>
<line x1="207.87" y1="808.06" x2="212.67" y2="808.06" stroke="#48821a" stroke-width="1.5" />
<line x1="235.32" y1="793.00" x2="235.32" y2="778.10" stroke="#48821a" stroke-width="1.6" stroke-dasharray="4.2 5.3 1.9 5.3"/>
<line x1="232.92" y1="778.10" x2="237.72" y2="778.10" stroke="#48821a" stroke-width="1.5" />
<line x1="235.32" y1="803.00" x2="235.32" y2="820.44" stroke="#48821a" stroke-width="1.6" stroke-dasharray="4.2 5.3 1.9 5.3"/>
<line x1="232.92" y1="820.44" x2="237.72" y2="820.44" stroke="#48821a" stroke-width="1.5" />
<line x1="260.38" y1="763.30" x2="260.38" y2="751.57" stroke="#48821a" stroke-width="1.6" stroke-dasharray="4.2 5.3 1.9 5.3"/>
<line x1="257.98" y1="751.57" x2="262.77" y2="751.57" stroke="#48821a" stroke-width="1.5" />
<line x1="260.38" y1="773.30" x2="260.38" y2="786.80" stroke="#48821a" stroke-width="1.6" stroke-dasharray="4.2 5.3 1.9 5.3"/>
<line x1="257.98" y1="786.80" x2="262.77" y2="786.80" stroke="#48821a" stroke-width="1.5" />
<line x1="288.56" y1="803.90" x2="288.56" y2="794.58" stroke="#48821a" stroke-width="1.6" stroke-dasharray="4.2 5.3 1.9 5.3"/>
<line x1="286.16" y1="794.58" x2="290.96" y2="794.58" stroke="#48821a" stroke-width="1.5" />
<line x1="288.56" y1="813.90" x2="288.56" y2="824.50" stroke="#48821a" stroke-width="1.6" stroke-dasharray="4.2 5.3 1.9 5.3"/>
<line x1="286.16" y1="824.50" x2="290.96" y2="824.50" stroke="#48821a" stroke-width="1.5" />
<line x1="319.87" y1="783.60" x2="319.87" y2="774.76" stroke="#48821a" stroke-width="1.6" stroke-dasharray="4.2 5.3 1.9 5.3"/>
<line x1="317.47" y1="774.76" x2="322.27" y2="774.76" stroke="#48821a" stroke-width="1.5" />
<line x1="319.87" y1="793.60" x2="319.87" y2="803.62" stroke="#48821a" stroke-width="1.6" stroke-dasharray="4.2 5.3 1.9 5.3"/>
<line x1="317.47" y1="803.62" x2="322.27" y2="803.62" stroke="#48821a" stroke-width="1.5" />
<line x1="351.19" y1="795.30" x2="351.19" y2="783.57" stroke="#48821a" stroke-width="1.6" stroke-dasharray="4.2 5.3 1.9 5.3"/>
<line x1="348.79" y1="783.57" x2="353.59" y2="783.57" stroke="#48821a" stroke-width="1.5" />
<line x1="351.19" y1="805.30" x2="351.19" y2="818.80" stroke="#48821a" stroke-width="1.6" stroke-dasharray="4.2 5.3 1.9 5.3"/>
<line x1="348.79" y1="818.80" x2="353.59" y2="818.80" stroke="#48821a" stroke-width="1.5" />
<line x1="385.63" y1="797.20" x2="385.63" y2="787.07" stroke="#48821a" stroke-width="1.6" stroke-dasharray="4.2 5.3 1.9 5.3"/>
<line x1="383.24" y1="787.07" x2="388.03" y2="787.07" stroke="#48821a" stroke-width="1.5" />
<line x1="385.63" y1="807.20" x2="385.63" y2="818.76" stroke="#48821a" stroke-width="1.6" stroke-dasharray="4.2 5.3 1.9 5.3"/>
<line x1="383.24" y1="818.76" x2="388.03" y2="818.76" stroke="#48821a" stroke-width="1.5" />
<line x1="423.21" y1="811.00" x2="423.21" y2="796.73" stroke="#48821a" stroke-width="1.6" stroke-dasharray="4.2 5.3 1.9 5.3"/>
<line x1="420.81" y1="796.73" x2="425.61" y2="796.73" stroke="#48821a" stroke-width="1.5" />
<line x1="423.21" y1="821.00" x2="423.21" y2="837.65" stroke="#48821a" stroke-width="1.6" stroke-dasharray="4.2 5.3 1.9 5.3"/>
<line x1="420.81" y1="837.65" x2="425.61" y2="837.65" stroke="#48821a" stroke-width="1.5" />
<line x1="460.79" y1="759.60" x2="460.79" y2="747.87" stroke="#48821a" stroke-width="1.6" stroke-dasharray="4.2 5.3 1.9 5.3"/>
<line x1="458.39" y1="747.87" x2="463.19" y2="747.87" stroke="#48821a" stroke-width="1.5" />
<line x1="460.79" y1="769.60" x2="460.79" y2="783.10" stroke="#48821a" stroke-width="1.6" stroke-dasharray="4.2 5.3 1.9 5.3"/>
<line x1="458.39" y1="783.10" x2="463.19" y2="783.10" stroke="#48821a" stroke-width="1.5" />
<line x1="604.84" y1="782.70" x2="604.84" y2="765.47" stroke="#48821a" stroke-width="1.6" stroke-dasharray="4.2 5.3 1.9 5.3"/>
<line x1="602.44" y1="765.47" x2="607.24" y2="765.47" stroke="#48821a" stroke-width="1.5" />
<line x1="604.84" y1="792.70" x2="604.84" y2="813.16" stroke="#48821a" stroke-width="1.6" stroke-dasharray="4.2 5.3 1.9 5.3"/>
<line x1="602.44" y1="813.16" x2="607.24" y2="813.16" stroke="#48821a" stroke-width="1.5" />
<polygon points="117.69,820.00 127.49,820.00 122.59,829.20" fill="#48821a"/>
<polygon points="145.87,761.00 155.67,761.00 150.77,770.20" fill="#48821a"/>
<polygon points="164.66,749.30 174.46,749.30 169.56,758.50" fill="#48821a"/>
<polygon points="183.45,848.00 193.25,848.00 188.35,857.20" fill="#48821a"/>
<polygon points="205.37,783.00 215.17,783.00 210.27,792.20" fill="#48821a"/>
<polygon points="230.42,793.40 240.22,793.40 235.32,802.60" fill="#48821a"/>
<polygon points="255.47,763.70 265.27,763.70 260.38,772.90" fill="#48821a"/>
<polygon points="283.66,804.30 293.46,804.30 288.56,813.50" fill="#48821a"/>
<polygon points="314.97,784.00 324.77,784.00 319.87,793.20" fill="#48821a"/>
<polygon points="346.29,795.70 356.09,795.70 351.19,804.90" fill="#48821a"/>
<polygon points="380.74,797.60 390.53,797.60 385.63,806.80" fill="#48821a"/>
<polygon points="418.31,811.40 428.11,811.40 423.21,820.60" fill="#48821a"/>
<polygon points="455.89,760.00 465.69,760.00 460.79,769.20" fill="#48821a"/>
<polygon points="599.94,783.10 609.74,783.10 604.84,792.30" fill="#48821a"/>
</g>
<rect x="91.3" y="35.0" width="650.7" height="920.3" fill="none" stroke="#000" stroke-width="1.8"/>
<line x1="91.30" y1="635.00" x2="742.00" y2="635.00" stroke="#000" stroke-width="1.8" />
<line x1="103.80" y1="35.00" x2="103.80" y2="50.80" stroke="#000" stroke-width="1.5" />
<line x1="103.80" y1="619.00" x2="103.80" y2="644.90" stroke="#000" stroke-width="1.5" />
<line x1="103.80" y1="945.40" x2="103.80" y2="955.30" stroke="#000" stroke-width="1.5" />
<line x1="135.12" y1="35.00" x2="135.12" y2="39.40" stroke="#000" stroke-width="1.5" />
<line x1="135.12" y1="630.50" x2="135.12" y2="638.00" stroke="#000" stroke-width="1.5" />
<line x1="135.12" y1="952.50" x2="135.12" y2="955.30" stroke="#000" stroke-width="1.5" />
<line x1="166.43" y1="35.00" x2="166.43" y2="43.20" stroke="#000" stroke-width="1.5" />
<line x1="166.43" y1="626.80" x2="166.43" y2="640.00" stroke="#000" stroke-width="1.5" />
<line x1="166.43" y1="950.30" x2="166.43" y2="955.30" stroke="#000" stroke-width="1.5" />
<line x1="197.75" y1="35.00" x2="197.75" y2="39.40" stroke="#000" stroke-width="1.5" />
<line x1="197.75" y1="630.50" x2="197.75" y2="638.00" stroke="#000" stroke-width="1.5" />
<line x1="197.75" y1="952.50" x2="197.75" y2="955.30" stroke="#000" stroke-width="1.5" />
<line x1="229.06" y1="35.00" x2="229.06" y2="43.20" stroke="#000" stroke-width="1.5" />
<line x1="229.06" y1="626.80" x2="229.06" y2="640.00" stroke="#000" stroke-width="1.5" />
<line x1="229.06" y1="950.30" x2="229.06" y2="955.30" stroke="#000" stroke-width="1.5" />
<line x1="260.38" y1="35.00" x2="260.38" y2="39.40" stroke="#000" stroke-width="1.5" />
<line x1="260.38" y1="630.50" x2="260.38" y2="638.00" stroke="#000" stroke-width="1.5" />
<line x1="260.38" y1="952.50" x2="260.38" y2="955.30" stroke="#000" stroke-width="1.5" />
<line x1="291.69" y1="35.00" x2="291.69" y2="43.20" stroke="#000" stroke-width="1.5" />
<line x1="291.69" y1="626.80" x2="291.69" y2="640.00" stroke="#000" stroke-width="1.5" />
<line x1="291.69" y1="950.30" x2="291.69" y2="955.30" stroke="#000" stroke-width="1.5" />
<line x1="323.00" y1="35.00" x2="323.00" y2="39.40" stroke="#000" stroke-width="1.5" />
<line x1="323.00" y1="630.50" x2="323.00" y2="638.00" stroke="#000" stroke-width="1.5" />
<line x1="323.00" y1="952.50" x2="323.00" y2="955.30" stroke="#000" stroke-width="1.5" />
<line x1="354.32" y1="35.00" x2="354.32" y2="43.20" stroke="#000" stroke-width="1.5" />
<line x1="354.32" y1="626.80" x2="354.32" y2="640.00" stroke="#000" stroke-width="1.5" />
<line x1="354.32" y1="950.30" x2="354.32" y2="955.30" stroke="#000" stroke-width="1.5" />
<line x1="385.63" y1="35.00" x2="385.63" y2="39.40" stroke="#000" stroke-width="1.5" />
<line x1="385.63" y1="630.50" x2="385.63" y2="638.00" stroke="#000" stroke-width="1.5" />
<line x1="385.63" y1="952.50" x2="385.63" y2="955.30" stroke="#000" stroke-width="1.5" />
<line x1="416.95" y1="35.00" x2="416.95" y2="50.80" stroke="#000" stroke-width="1.5" />
<line x1="416.95" y1="619.00" x2="416.95" y2="644.90" stroke="#000" stroke-width="1.5" />
<line x1="416.95" y1="945.40" x2="416.95" y2="955.30" stroke="#000" stroke-width="1.5" />
<line x1="448.26" y1="35.00" x2="448.26" y2="39.40" stroke="#000" stroke-width="1.5" />
<line x1="448.26" y1="630.50" x2="448.26" y2="638.00" stroke="#000" stroke-width="1.5" />
<line x1="448.26" y1="952.50" x2="448.26" y2="955.30" stroke="#000" stroke-width="1.5" />
<line x1="479.58" y1="35.00" x2="479.58" y2="43.20" stroke="#000" stroke-width="1.5" />
<line x1="479.58" y1="626.80" x2="479.58" y2="640.00" stroke="#000" stroke-width="1.5" />
<line x1="479.58" y1="950.30" x2="479.58" y2="955.30" stroke="#000" stroke-width="1.5" />
<line x1="510.89" y1="35.00" x2="510.89" y2="39.40" stroke="#000" stroke-width="1.5" />
<line x1="510.89" y1="630.50" x2="510.89" y2="638.00" stroke="#000" stroke-width="1.5" />
<line x1="510.89" y1="952.50" x2="510.89" y2="955.30" stroke="#000" stroke-width="1.5" />
<line x1="542.21" y1="35.00" x2="542.21" y2="43.20" stroke="#000" stroke-width="1.5" />
<line x1="542.21" y1="626.80" x2="542.21" y2="640.00" stroke="#000" stroke-width="1.5" />
<line x1="542.21" y1="950.30" x2="542.21" y2="955.30" stroke="#000" stroke-width="1.5" />
<line x1="573.52" y1="35.00" x2="573.52" y2="39.40" stroke="#000" stroke-width="1.5" />
<line x1="573.52" y1="630.50" x2="573.52" y2="638.00" stroke="#000" stroke-width="1.5" />
<line x1="573.52" y1="952.50" x2="573.52" y2="955.30" stroke="#000" stroke-width="1.5" />
<line x1="604.84" y1="35.00" x2="604.84" y2="43.20" stroke="#000" stroke-width="1.5" />
<line x1="604.84" y1="626.80" x2="604.84" y2="640.00" stroke="#000" stroke-width="1.5" />
<line x1="604.84" y1="950.30" x2="604.84" y2="955.30" stroke="#000" stroke-width="1.5" />
<line x1="636.15" y1="35.00" x2="636.15" y2="39.40" stroke="#000" stroke-width="1.5" />
<line x1="636.15" y1="630.50" x2="636.15" y2="638.00" stroke="#000" stroke-width="1.5" />
<line x1="636.15" y1="952.50" x2="636.15" y2="955.30" stroke="#000" stroke-width="1.5" />
<line x1="667.47" y1="35.00" x2="667.47" y2="43.20" stroke="#000" stroke-width="1.5" />
<line x1="667.47" y1="626.80" x2="667.47" y2="640.00" stroke="#000" stroke-width="1.5" />
<line x1="667.47" y1="950.30" x2="667.47" y2="955.30" stroke="#000" stroke-width="1.5" />
<line x1="698.78" y1="35.00" x2="698.78" y2="39.40" stroke="#000" stroke-width="1.5" />
<line x1="698.78" y1="630.50" x2="698.78" y2="638.00" stroke="#000" stroke-width="1.5" />
<line x1="698.78" y1="952.50" x2="698.78" y2="955.30" stroke="#000" stroke-width="1.5" />
<line x1="730.10" y1="35.00" x2="730.10" y2="50.80" stroke="#000" stroke-width="1.5" />
<line x1="730.10" y1="619.00" x2="730.10" y2="644.90" stroke="#000" stroke-width="1.5" />
<line x1="730.10" y1="945.40" x2="730.10" y2="955.30" stroke="#000" stroke-width="1.5" />
<line x1="91.30" y1="635.30" x2="113.60" y2="635.30" stroke="#000" stroke-width="1.5" />
<line x1="719.70" y1="635.30" x2="742.00" y2="635.30" stroke="#000" stroke-width="1.5" />
<line x1="91.30" y1="614.40" x2="102.50" y2="614.40" stroke="#000" stroke-width="1.5" />
<line x1="730.80" y1="614.40" x2="742.00" y2="614.40" stroke="#000" stroke-width="1.5" />
<line x1="91.30" y1="593.50" x2="102.50" y2="593.50" stroke="#000" stroke-width="1.5" />
<line x1="730.80" y1="593.50" x2="742.00" y2="593.50" stroke="#000" stroke-width="1.5" />
<line x1="91.30" y1="572.60" x2="102.50" y2="572.60" stroke="#000" stroke-width="1.5" />
<line x1="730.80" y1="572.60" x2="742.00" y2="572.60" stroke="#000" stroke-width="1.5" />
<line x1="91.30" y1="551.70" x2="102.50" y2="551.70" stroke="#000" stroke-width="1.5" />
<line x1="730.80" y1="551.70" x2="742.00" y2="551.70" stroke="#000" stroke-width="1.5" />
<line x1="91.30" y1="530.80" x2="113.60" y2="530.80" stroke="#000" stroke-width="1.5" />
<line x1="719.70" y1="530.80" x2="742.00" y2="530.80" stroke="#000" stroke-width="1.5" />
<line x1="91.30" y1="509.90" x2="102.50" y2="509.90" stroke="#000" stroke-width="1.5" />
<line x1="730.80" y1="509.90" x2="742.00" y2="509.90" stroke="#000" stroke-width="1.5" />
<line x1="91.30" y1="489.00" x2="102.50" y2="489.00" stroke="#000" stroke-width="1.5" />
<line x1="730.80" y1="489.00" x2="742.00" y2="489.00" stroke="#000" stroke-width="1.5" />
<line x1="91.30" y1="468.10" x2="102.50" y2="468.10" stroke="#000" stroke-width="1.5" />
<line x1="730.80" y1="468.10" x2="742.00" y2="468.10" stroke="#000" stroke-width="1.5" />
<line x1="91.30" y1="447.20" x2="102.50" y2="447.20" stroke="#000" stroke-width="1.5" />
<line x1="730.80" y1="447.20" x2="742.00" y2="447.20" stroke="#000" stroke-width="1.5" />
<line x1="91.30" y1="426.30" x2="113.60" y2="426.30" stroke="#000" stroke-width="1.5" />
<line x1="719.70" y1="426.30" x2="742.00" y2="426.30" stroke="#000" stroke-width="1.5" />
<line x1="91.30" y1="405.40" x2="102.50" y2="405.40" stroke="#000" stroke-width="1.5" />
<line x1="730.80" y1="405.40" x2="742.00" y2="405.40" stroke="#000" stroke-width="1.5" />
<line x1="91.30" y1="384.50" x2="102.50" y2="384.50" stroke="#000" stroke-width="1.5" />
<line x1="730.80" y1="384.50" x2="742.00" y2="384.50" stroke="#000" stroke-width="1.5" />
<line x1="91.30" y1="363.60" x2="102.50" y2="363.60" stroke="#000" stroke-width="1.5" />
<line x1="730.80" y1="363.60" x2="742.00" y2="363.60" stroke="#000" stroke-width="1.5" />
<line x1="91.30" y1="342.70" x2="102.50" y2="342.70" stroke="#000" stroke-width="1.5" />
<line x1="730.80" y1="342.70" x2="742.00" y2="342.70" stroke="#000" stroke-width="1.5" />
<line x1="91.30" y1="321.80" x2="113.60" y2="321.80" stroke="#000" stroke-width="1.5" />
<line x1="719.70" y1="321.80" x2="742.00" y2="321.80" stroke="#000" stroke-width="1.5" />
<line x1="91.30" y1="300.90" x2="102.50" y2="300.90" stroke="#000" stroke-width="1.5" />
<line x1="730.80" y1="300.90" x2="742.00" y2="300.90" stroke="#000" stroke-width="1.5" />
<line x1="91.30" y1="280.00" x2="102.50" y2="280.00" stroke="#000" stroke-width="1.5" />
<line x1="730.80" y1="280.00" x2="742.00" y2="280.00" stroke="#000" stroke-width="1.5" />
<line x1="91.30" y1="259.10" x2="102.50" y2="259.10" stroke="#000" stroke-width="1.5" />
<line x1="730.80" y1="259.10" x2="742.00" y2="259.10" stroke="#000" stroke-width="1.5" />
<line x1="91.30" y1="238.20" x2="102.50" y2="238.20" stroke="#000" stroke-width="1.5" />
<line x1="730.80" y1="238.20" x2="742.00" y2="238.20" stroke="#000" stroke-width="1.5" />
<line x1="91.30" y1="217.30" x2="113.60" y2="217.30" stroke="#000" stroke-width="1.5" />
<line x1="719.70" y1="217.30" x2="742.00" y2="217.30" stroke="#000" stroke-width="1.5" />
<line x1="91.30" y1="196.40" x2="102.50" y2="196.40" stroke="#000" stroke-width="1.5" />
<line x1="730.80" y1="196.40" x2="742.00" y2="196.40" stroke="#000" stroke-width="1.5" />
<line x1="91.30" y1="175.50" x2="102.50" y2="175.50" stroke="#000" stroke-width="1.5" />
<line x1="730.80" y1="175.50" x2="742.00" y2="175.50" stroke="#000" stroke-width="1.5" />
<line x1="91.30" y1="154.60" x2="102.50" y2="154.60" stroke="#000" stroke-width="1.5" />
<line x1="730.80" y1="154.60" x2="742.00" y2="154.60" stroke="#000" stroke-width="1.5" />
<line x1="91.30" y1="133.70" x2="102.50" y2="133.70" stroke="#000" stroke-width="1.5" />
<line x1="730.80" y1="133.70" x2="742.00" y2="133.70" stroke="#000" stroke-width="1.5" />
<line x1="91.30" y1="112.80" x2="113.60" y2="112.80" stroke="#000" stroke-width="1.5" />
<line x1="719.70" y1="112.80" x2="742.00" y2="112.80" stroke="#000" stroke-width="1.5" />
<line x1="91.30" y1="91.90" x2="102.50" y2="91.90" stroke="#000" stroke-width="1.5" />
<line x1="730.80" y1="91.90" x2="742.00" y2="91.90" stroke="#000" stroke-width="1.5" />
<line x1="91.30" y1="71.00" x2="102.50" y2="71.00" stroke="#000" stroke-width="1.5" />
<line x1="730.80" y1="71.00" x2="742.00" y2="71.00" stroke="#000" stroke-width="1.5" />
<line x1="91.30" y1="50.10" x2="102.50" y2="50.10" stroke="#000" stroke-width="1.5" />
<line x1="730.80" y1="50.10" x2="742.00" y2="50.10" stroke="#000" stroke-width="1.5" />
<line x1="91.30" y1="917.20" x2="105.80" y2="917.20" stroke="#000" stroke-width="1.5" />
<line x1="727.50" y1="917.20" x2="742.00" y2="917.20" stroke="#000" stroke-width="1.5" />
<line x1="91.30" y1="885.19" x2="101.30" y2="885.19" stroke="#222" stroke-width="1.3" />
<line x1="732.00" y1="885.19" x2="742.00" y2="885.19" stroke="#222" stroke-width="1.3" />
<line x1="91.30" y1="858.12" x2="101.30" y2="858.12" stroke="#222" stroke-width="1.3" />
<line x1="732.00" y1="858.12" x2="742.00" y2="858.12" stroke="#222" stroke-width="1.3" />
<line x1="91.30" y1="834.68" x2="101.30" y2="834.68" stroke="#222" stroke-width="1.3" />
<line x1="732.00" y1="834.68" x2="742.00" y2="834.68" stroke="#222" stroke-width="1.3" />
<line x1="91.30" y1="814.00" x2="101.30" y2="814.00" stroke="#222" stroke-width="1.3" />
<line x1="732.00" y1="814.00" x2="742.00" y2="814.00" stroke="#222" stroke-width="1.3" />
<line x1="91.30" y1="795.50" x2="105.80" y2="795.50" stroke="#000" stroke-width="1.5" />
<line x1="727.50" y1="795.50" x2="742.00" y2="795.50" stroke="#000" stroke-width="1.5" />
<line x1="91.30" y1="778.77" x2="101.30" y2="778.77" stroke="#222" stroke-width="1.3" />
<line x1="732.00" y1="778.77" x2="742.00" y2="778.77" stroke="#222" stroke-width="1.3" />
<line x1="91.30" y1="763.49" x2="101.30" y2="763.49" stroke="#222" stroke-width="1.3" />
<line x1="732.00" y1="763.49" x2="742.00" y2="763.49" stroke="#222" stroke-width="1.3" />
<line x1="91.30" y1="749.44" x2="101.30" y2="749.44" stroke="#222" stroke-width="1.3" />
<line x1="732.00" y1="749.44" x2="742.00" y2="749.44" stroke="#222" stroke-width="1.3" />
<line x1="91.30" y1="736.42" x2="101.30" y2="736.42" stroke="#222" stroke-width="1.3" />
<line x1="732.00" y1="736.42" x2="742.00" y2="736.42" stroke="#222" stroke-width="1.3" />
<line x1="91.30" y1="724.31" x2="105.80" y2="724.31" stroke="#000" stroke-width="1.5" />
<line x1="727.50" y1="724.31" x2="742.00" y2="724.31" stroke="#000" stroke-width="1.5" />
<line x1="91.30" y1="712.98" x2="101.30" y2="712.98" stroke="#222" stroke-width="1.3" />
<line x1="732.00" y1="712.98" x2="742.00" y2="712.98" stroke="#222" stroke-width="1.3" />
<line x1="91.30" y1="702.33" x2="101.30" y2="702.33" stroke="#222" stroke-width="1.3" />
<line x1="732.00" y1="702.33" x2="742.00" y2="702.33" stroke="#222" stroke-width="1.3" />
<line x1="91.30" y1="692.30" x2="101.30" y2="692.30" stroke="#222" stroke-width="1.3" />
<line x1="732.00" y1="692.30" x2="742.00" y2="692.30" stroke="#222" stroke-width="1.3" />
<line x1="91.30" y1="682.81" x2="101.30" y2="682.81" stroke="#222" stroke-width="1.3" />
<line x1="732.00" y1="682.81" x2="742.00" y2="682.81" stroke="#222" stroke-width="1.3" />
<line x1="91.30" y1="673.80" x2="105.80" y2="673.80" stroke="#000" stroke-width="1.5" />
<line x1="727.50" y1="673.80" x2="742.00" y2="673.80" stroke="#000" stroke-width="1.5" />
<line x1="91.30" y1="665.23" x2="101.30" y2="665.23" stroke="#222" stroke-width="1.3" />
<line x1="732.00" y1="665.23" x2="742.00" y2="665.23" stroke="#222" stroke-width="1.3" />
<line x1="91.30" y1="657.07" x2="101.30" y2="657.07" stroke="#222" stroke-width="1.3" />
<line x1="732.00" y1="657.07" x2="742.00" y2="657.07" stroke="#222" stroke-width="1.3" />
<line x1="91.30" y1="649.26" x2="101.30" y2="649.26" stroke="#222" stroke-width="1.3" />
<line x1="732.00" y1="649.26" x2="742.00" y2="649.26" stroke="#222" stroke-width="1.3" />
<line x1="91.30" y1="641.79" x2="101.30" y2="641.79" stroke="#222" stroke-width="1.3" />
<line x1="732.00" y1="641.79" x2="742.00" y2="641.79" stroke="#222" stroke-width="1.3" />
<text x="82.60" y="435.30" font-size="23.0" text-anchor="end" fill="#000" stroke="#000" stroke-width="0.3" >2</text>
<text x="82.60" y="330.80" font-size="23.0" text-anchor="end" fill="#000" stroke="#000" stroke-width="0.3" >3</text>
<text x="82.60" y="226.30" font-size="23.0" text-anchor="end" fill="#000" stroke="#000" stroke-width="0.3" >4</text>
<text x="82.60" y="121.80" font-size="23.0" text-anchor="end" fill="#000" stroke="#000" stroke-width="0.3" >5</text>
<path d="M0.00,0.00 L-2.25,0.00 L-2.25,-11.50 L-7.30,-11.50 L-7.30,-13.10 Q-3.60,-13.30 -3.30,-16.20 L0.00,-16.20 Z" fill="#000" transform="translate(82.40,539.00)"/>
<clipPath id="c0"><rect x="0" y="600" width="90" height="36.00"/></clipPath>
<g clip-path="url(#c0)">
<text x="82.60" y="645.50" font-size="23.0" text-anchor="end" fill="#000" stroke="#000" stroke-width="0.3" >0</text>
</g>
<text x="76.70" y="682.80" font-size="23.0" text-anchor="end" fill="#000" stroke="#000" stroke-width="0.3" >2</text>
<text x="748.40" y="682.80" font-size="23.0" text-anchor="start" fill="#000" stroke="#000" stroke-width="0.3" >2</text>
<text x="76.70" y="926.20" font-size="23.0" text-anchor="end" fill="#000" stroke="#000" stroke-width="0.3" >0.5</text>
<text x="748.40" y="926.20" font-size="23.0" text-anchor="start" fill="#000" stroke="#000" stroke-width="0.3" >0.5</text>
<path d="M0.00,0.00 L-2.25,0.00 L-2.25,-11.50 L-7.30,-11.50 L-7.30,-13.10 Q-3.60,-13.30 -3.30,-16.20 L0.00,-16.20 Z" fill="#000" transform="translate(74.90,804.40)"/>
<path d="M0.00,0.00 L-2.25,0.00 L-2.25,-11.50 L-7.30,-11.50 L-7.30,-13.10 Q-3.60,-13.30 -3.30,-16.20 L0.00,-16.20 Z" fill="#000" transform="translate(757.60,804.40)"/>
<text x="104.10" y="979.00" font-size="23.0" text-anchor="middle" fill="#000" stroke="#000" stroke-width="0.3" >0</text>
<text x="418.25" y="979.00" font-size="23.0" text-anchor="middle" fill="#000" stroke="#000" stroke-width="0.3" >0.5</text>
<path d="M0.00,0.00 L-2.25,0.00 L-2.25,-11.50 L-7.30,-11.50 L-7.30,-13.10 Q-3.60,-13.30 -3.30,-16.20 L0.00,-16.20 Z" fill="#000" transform="translate(737.20,978.60)"/>
<text x="104.80" y="29.20" font-size="24.6" fill="#000" stroke="#000" stroke-width="0.3" textLength="65.29" lengthAdjust="spacingAndGlyphs">13000</text>
<text x="178.00" y="29.20" font-size="24.6" fill="#000" stroke="#000" stroke-width="0.3" textLength="47.40" lengthAdjust="spacingAndGlyphs">GeV</text>
<text x="231.80" y="29.20" font-size="24.6" fill="#000" stroke="#000" stroke-width="0.3" textLength="27.51" lengthAdjust="spacingAndGlyphs">pp</text>
<text x="730.60" y="29.20" font-size="24.6" text-anchor="end" fill="#000" stroke="#000" stroke-width="0.3" textLength="44.0" lengthAdjust="spacing" >Jets</text>
<text x="424.30" y="1006.50" font-size="24.6" fill="#000" stroke="#000" stroke-width="0.3" textLength="96.00" lengthAdjust="spacingAndGlyphs">groomed</text>
<text x="531.20" y="1006.50" font-size="24.6" fill="#000" stroke="#000" stroke-width="0.3" textLength="49.21" lengthAdjust="spacingAndGlyphs">LHA</text>
<text x="588.10" y="1006.50" font-size="24.6" fill="#000" stroke="#000" stroke-width="0.3" textLength="162.41" lengthAdjust="spacingAndGlyphs">(charged-only)</text>
<text x="36.60" y="846.00" font-size="20.0" fill="#000" stroke="#000" stroke-width="0.3" transform="rotate(-90 36.60 846.00)" textLength="39.61" lengthAdjust="spacingAndGlyphs">Ratio</text>
<text x="36.60" y="801.50" font-size="20.0" fill="#000" stroke="#000" stroke-width="0.3" transform="rotate(-90 36.60 801.50)" textLength="15.40" lengthAdjust="spacingAndGlyphs">to</text>
<text x="36.60" y="780.30" font-size="20.0" fill="#000" stroke="#000" stroke-width="0.3" transform="rotate(-90 36.60 780.30)" textLength="39.50" lengthAdjust="spacingAndGlyphs">CMS</text>
<text x="90.50" y="86.60" font-size="24.6" fill="#000" stroke="#000" stroke-width="0.3" textLength="59.20" lengthAdjust="spacingAndGlyphs">CMS,</text>
<text x="159.20" y="86.60" font-size="24.6" fill="#000" stroke="#000" stroke-width="0.3" textLength="23.71" lengthAdjust="spacingAndGlyphs">13</text>
<text x="189.70" y="86.60" font-size="24.6" fill="#000" stroke="#000" stroke-width="0.3" textLength="50.90" lengthAdjust="spacingAndGlyphs">TeV,</text>
<text x="248.20" y="86.60" font-size="24.6" fill="#000" stroke="#000" stroke-width="0.3" textLength="45.60" lengthAdjust="spacingAndGlyphs">AK8</text>
<text x="301.48" y="86.60" font-size="24.6" fill="#000" stroke="#000" stroke-width="0.3" textLength="42.72" lengthAdjust="spacingAndGlyphs">jets,</text>
<text x="352.20" y="86.60" font-size="24.6" fill="#000" stroke="#000" stroke-width="0.3" textLength="70.91" lengthAdjust="spacingAndGlyphs">central</text>
<text x="430.80" y="86.60" font-size="24.6" fill="#000" stroke="#000" stroke-width="0.3" textLength="44.91" lengthAdjust="spacingAndGlyphs">dijet</text>
<text x="483.50" y="86.60" font-size="24.6" fill="#000" stroke="#000" stroke-width="0.3" textLength="71.69" lengthAdjust="spacingAndGlyphs">region,</text>
<text x="564.10" y="86.60" font-size="24.6" fill="#000" stroke="#000" stroke-width="0.3" textLength="24.71" lengthAdjust="spacingAndGlyphs">65</text>
<text x="597.70" y="86.60" font-size="24.6" fill="#000" stroke="#000" stroke-width="0.3" textLength="14.30" lengthAdjust="spacingAndGlyphs">&lt;</text>
<text x="611.90" y="86.60" font-size="24.6" text-anchor="start" fill="#000" stroke="#000" stroke-width="0.3" >p</text>
<text x="615.30" y="70.20" font-size="15.3" text-anchor="start" fill="#000" stroke="#000" stroke-width="0.3" textLength="22.0" lengthAdjust="spacing" >{jet</text>
<text x="615.80" y="99.20" font-size="15.3" text-anchor="start" fill="#000" stroke="#000" stroke-width="0.3" >T</text>
<text x="636.70" y="86.60" font-size="24.6" fill="#000" stroke="#000" stroke-width="0.3" textLength="7.20" lengthAdjust="spacingAndGlyphs">}</text>
<text x="644.70" y="86.60" font-size="24.6" fill="#000" stroke="#000" stroke-width="0.3" textLength="13.80" lengthAdjust="spacingAndGlyphs">&lt;</text>
<text x="665.30" y="86.60" font-size="24.6" fill="#000" stroke="#000" stroke-width="0.3" textLength="27.51" lengthAdjust="spacingAndGlyphs">88</text>
<text x="698.50" y="86.60" font-size="24.6" fill="#000" stroke="#000" stroke-width="0.3" textLength="47.40" lengthAdjust="spacingAndGlyphs">GeV</text>
<text x="759.90" y="253.30" font-size="19.6" fill="#808080" stroke="#808080" stroke-width="0.2" transform="rotate(-90 759.90 253.30)" textLength="41.21" lengthAdjust="spacingAndGlyphs">Rivet</text>
<text x="759.90" y="206.70" font-size="19.6" fill="#808080" stroke="#808080" stroke-width="0.2" transform="rotate(-90 759.90 206.70)" textLength="46.20" lengthAdjust="spacingAndGlyphs">4.1.0,</text>
<text x="759.90" y="153.90" font-size="19.6" fill="#808080" stroke="#808080" stroke-width="0.2" transform="rotate(-90 759.90 153.90)" textLength="10.20" lengthAdjust="spacingAndGlyphs">&#8805;</text>
<text x="759.90" y="135.40" font-size="19.6" fill="#808080" stroke="#808080" stroke-width="0.2" transform="rotate(-90 759.90 135.40)" textLength="38.87" lengthAdjust="spacingAndGlyphs">100k</text>
<text x="759.90" y="92.60" font-size="19.6" fill="#808080" stroke="#808080" stroke-width="0.2" transform="rotate(-90 759.90 92.60)" textLength="56.21" lengthAdjust="spacingAndGlyphs">events</text>
<text x="761.80" y="628.30" font-size="19.0" fill="#808080" stroke="#808080" stroke-width="0.2" transform="rotate(-90 761.80 628.30)" textLength="131.01" lengthAdjust="spacingAndGlyphs">mcplots.cern.ch</text>
<text x="761.80" y="489.70" font-size="19.0" fill="#808080" stroke="#808080" stroke-width="0.2" transform="rotate(-90 761.80 489.70)" textLength="157.90" lengthAdjust="spacingAndGlyphs">[arXiv:2401.10621]</text>
<text x="333.80" y="604.20" font-size="15.8" text-anchor="start" fill="#9a9a9a" stroke="#9a9a9a" stroke-width="0.1" textLength="164.3" lengthAdjust="spacing" >(CMS_2021_I1920187)</text>
<rect x="147.70" y="119.00" width="11" height="11" fill="#000"/>
<text x="188.00" y="129.80" font-size="19" text-anchor="start" fill="#000" stroke="#000" stroke-width="0.3" >CMS</text>
<line x1="128.70" y1="150.20" x2="175.10" y2="150.20" stroke="#692a4d" stroke-width="1.6" stroke-dasharray="7.2 3.8 1.9 3.8"/>
<rect x="148.30" y="145.30" width="9.8" height="9.8" fill="none" stroke="#692a4d" stroke-width="1.3"/>
<text x="187.60" y="156.00" font-size="19" fill="#000" stroke="#000" stroke-width="0.3" textLength="52.09" lengthAdjust="spacingAndGlyphs">Pythia</text>
<text x="245.00" y="156.00" font-size="19" fill="#000" stroke="#000" stroke-width="0.3" textLength="47.31" lengthAdjust="spacingAndGlyphs">6.428</text>
<text x="298.60" y="156.00" font-size="19" fill="#000" stroke="#000" stroke-width="0.3" textLength="29.11" lengthAdjust="spacingAndGlyphs">391</text>
<line x1="128.70" y1="176.30" x2="175.10" y2="176.30" stroke="#7d7040" stroke-width="1.6" stroke-dasharray="4.2 5.3 1.9 5.3"/>
<polygon points="151.60,171.30 154.80,171.30 154.80,174.70 158.20,174.70 158.20,177.90 154.80,177.90 154.80,181.30 151.60,181.30 151.60,177.90 148.20,177.90 148.20,174.70 151.60,174.70" fill="none" stroke="#7d7040" stroke-width="1.3"/>
<text x="187.60" y="182.10" font-size="19" fill="#000" stroke="#000" stroke-width="0.3" textLength="52.09" lengthAdjust="spacingAndGlyphs">Pythia</text>
<text x="245.00" y="182.10" font-size="19" fill="#000" stroke="#000" stroke-width="0.3" textLength="47.31" lengthAdjust="spacingAndGlyphs">6.428</text>
<text x="298.60" y="182.10" font-size="19" fill="#000" stroke="#000" stroke-width="0.3" textLength="30.61" lengthAdjust="spacingAndGlyphs">393</text>
<line x1="128.70" y1="202.30" x2="175.10" y2="202.30" stroke="#6b4c32" stroke-width="1.6" stroke-dasharray="4.2 5.3 1.9 5.3"/>
<circle cx="153.20" cy="202.30" r="4.9" fill="#6b4c32"/>
<text x="187.60" y="208.10" font-size="19" fill="#000" stroke="#000" stroke-width="0.3" textLength="52.09" lengthAdjust="spacingAndGlyphs">Pythia</text>
<text x="245.00" y="208.10" font-size="19" fill="#000" stroke="#000" stroke-width="0.3" textLength="47.31" lengthAdjust="spacingAndGlyphs">6.428</text>
<text x="298.60" y="208.10" font-size="19" fill="#000" stroke="#000" stroke-width="0.3" textLength="30.61" lengthAdjust="spacingAndGlyphs">394</text>
<line x1="128.70" y1="228.30" x2="175.10" y2="228.30" stroke="#48821a" stroke-width="1.6" stroke-dasharray="4.2 5.3 1.9 5.3"/>
<polygon points="148.30,223.70 158.10,223.70 153.20,232.90" fill="#48821a"/>
<text x="187.60" y="234.10" font-size="19" fill="#000" stroke="#000" stroke-width="0.3" textLength="52.09" lengthAdjust="spacingAndGlyphs">Pythia</text>
<text x="245.00" y="234.10" font-size="19" fill="#000" stroke="#000" stroke-width="0.3" textLength="47.31" lengthAdjust="spacingAndGlyphs">6.428</text>
<text x="298.60" y="234.10" font-size="19" fill="#000" stroke="#000" stroke-width="0.3" textLength="30.61" lengthAdjust="spacingAndGlyphs">395</text>
<text x="27.60" y="266.90" font-size="24.5" fill="#000" stroke="#000" stroke-width="0.3" transform="rotate(-90 27.60 266.90)" textLength="12.50" lengthAdjust="spacingAndGlyphs">#</text>
<line x1="21.20" y1="141.20" x2="21.20" y2="253.00" stroke="#000" stroke-width="2.3" />
<path d="M0.00,0.00 L-2.40,0.00 L-2.40,-12.28 L-7.80,-12.28 L-7.80,-13.99 Q-3.84,-14.20 -3.52,-17.30 L0.00,-17.30 Z" fill="#000" transform="translate(18.10,193.00) rotate(-90)"/>
<text x="42.00" y="246.00" font-size="24.5" text-anchor="start" fill="#000" stroke="#000" stroke-width="0.3" transform="rotate(-90 42.00 246.00)" >d</text>
<text x="42.00" y="225.70" font-size="24.5" text-anchor="start" fill="#000" stroke="#000" stroke-width="0.3" transform="rotate(-90 42.00 225.70)" >N</text>
<text x="42.00" y="201.90" font-size="24.5" text-anchor="start" fill="#000" stroke="#000" stroke-width="0.3" transform="rotate(-90 42.00 201.90)" >/</text>
<text x="42.00" y="181.50" font-size="24.5" text-anchor="start" fill="#000" stroke="#000" stroke-width="0.3" transform="rotate(-90 42.00 181.50)" >d</text>
<text x="42.00" y="162.20" font-size="24.5" text-anchor="start" fill="#000" stroke="#000" stroke-width="0.3" transform="rotate(-90 42.00 162.20)" >p</text>
<text x="55.90" y="151.90" font-size="16" text-anchor="start" fill="#000" stroke="#000" stroke-width="0.3" transform="rotate(-90 55.90 151.90)" >T</text>
<text x="28.00" y="140.80" font-size="24.5" fill="#000" stroke="#000" stroke-width="0.3" transform="rotate(-90 28.00 140.80)" textLength="12.60" lengthAdjust="spacingAndGlyphs">#</text>
<line x1="21.20" y1="35.00" x2="21.20" y2="127.30" stroke="#000" stroke-width="2.3" />
<text x="17.00" y="96.00" font-size="24.5" text-anchor="start" fill="#000" stroke="#000" stroke-width="0.3" transform="rotate(-90 17.00 96.00)" >d</text>
<text x="5.00" y="83.00" font-size="15.3" text-anchor="start" fill="#000" stroke="#000" stroke-width="0.3" transform="rotate(-90 5.00 83.00)" >2</text>
<text x="17.00" y="74.60" font-size="24.5" text-anchor="start" fill="#000" stroke="#000" stroke-width="0.3" transform="rotate(-90 17.00 74.60)" >N</text>
<text x="43.10" y="121.50" font-size="24.5" text-anchor="start" fill="#000" stroke="#000" stroke-width="0.3" transform="rotate(-90 43.10 121.50)" >d</text>
<text x="43.10" y="101.50" font-size="24.5" text-anchor="start" fill="#000" stroke="#000" stroke-width="0.3" transform="rotate(-90 43.10 101.50)" >p</text>
<text x="56.70" y="89.00" font-size="16" text-anchor="start" fill="#000" stroke="#000" stroke-width="0.3" transform="rotate(-90 56.70 89.00)" >T</text>
<text x="43.10" y="65.00" font-size="24.5" text-anchor="start" fill="#000" stroke="#000" stroke-width="0.3" transform="rotate(-90 43.10 65.00)" >d</text>
<text x="43.10" y="48.40" font-size="24.5" text-anchor="start" fill="#000" stroke="#000" stroke-width="0.3" transform="rotate(-90 43.10 48.40)" >&#955;</text>
</svg>
</body></html>
